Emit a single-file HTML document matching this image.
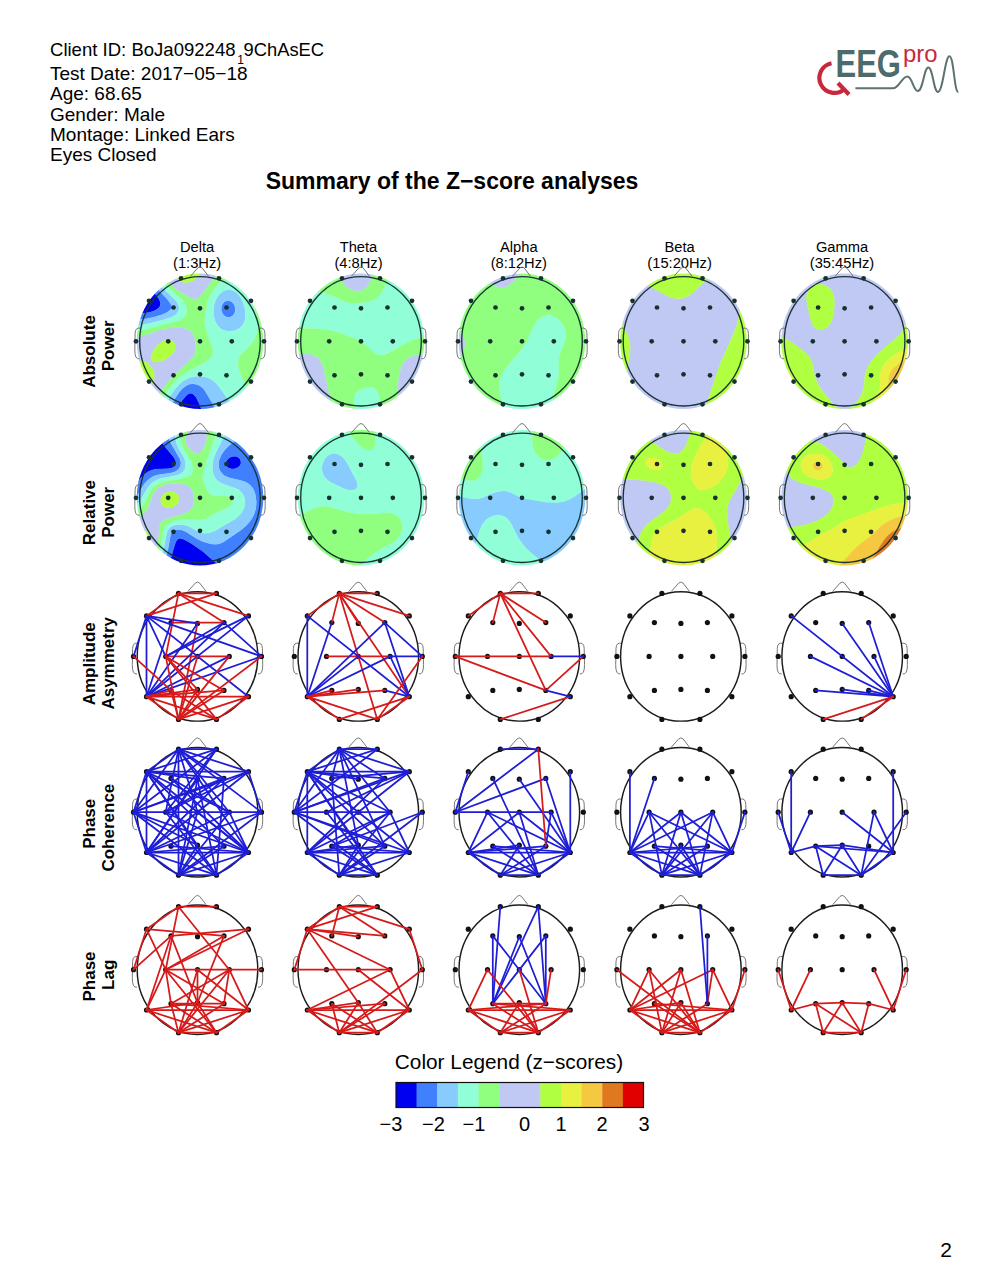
<!DOCTYPE html>
<html><head><meta charset="utf-8"><style>
html,body{margin:0;padding:0;background:#fff;}
body{width:987px;height:1279px;overflow:hidden;position:relative;font-family:"Liberation Sans",sans-serif;}
svg{position:absolute;left:0;top:0;}
text{font-family:"Liberation Sans",sans-serif;}
</style></head><body>
<svg width="987" height="1279" viewBox="0 0 987 1279">
<g font-size="19">
<text x="50" y="55.6" textLength="185.5" lengthAdjust="spacingAndGlyphs">Client ID: BoJa092248</text><text x="237.3" y="64" font-size="12">1</text><text x="243.6" y="55.6" textLength="80.5" lengthAdjust="spacingAndGlyphs">9ChAsEC</text>
<text x="50" y="79.5">Test Date: 2017−05−18</text>
<text x="50" y="100">Age: 68.65</text>
<text x="50" y="120.5">Gender: Male</text>
<text x="50" y="140.5">Montage: Linked Ears</text>
<text x="50" y="161">Eyes Closed</text>
</g>
<text x="452" y="189" text-anchor="middle" font-size="23" font-weight="bold">Summary of the Z−score analyses</text>
<g>
<text x="835.5" y="76.5" font-size="39" font-weight="bold" style="fill:#4d6b6b" textLength="65.5" lengthAdjust="spacingAndGlyphs">EEG</text>
<text x="903" y="62" font-size="23" style="fill:#c8283c" textLength="34.5" lengthAdjust="spacingAndGlyphs">pro</text>
<path d="M831.5 63.2 A15 15 0 1 0 844.5 89" fill="none" stroke="#c8283c" stroke-width="4.2"/>
<path d="M838 83 L849 94.5" stroke="#c8283c" stroke-width="4.2"/>
<path d="M855.4 88.3 L893 88.3 C899 88.3 902 76.5 907.3 76.5 C912.5 76.5 913 91 917.8 91 C923 91 924 67.6 928.3 67.6 C933 67.6 933.5 91.9 938 91.9 C943 91.9 945 56.2 949.4 56.2 C954 56.2 954 91.9 958.3 91.9" fill="none" stroke="#5e7272" stroke-width="2"/>
</g>
<text x="197.1" y="251.6" text-anchor="middle" font-size="14.7">Delta</text><text x="197.1" y="267.8" text-anchor="middle" font-size="14.7">(1:3Hz)</text><text x="358.5" y="251.6" text-anchor="middle" font-size="14.7">Theta</text><text x="358.5" y="267.8" text-anchor="middle" font-size="14.7">(4:8Hz)</text><text x="518.8" y="251.6" text-anchor="middle" font-size="14.7">Alpha</text><text x="518.8" y="267.8" text-anchor="middle" font-size="14.7">(8:12Hz)</text><text x="679.6" y="251.6" text-anchor="middle" font-size="14.7">Beta</text><text x="679.6" y="267.8" text-anchor="middle" font-size="14.7">(15:20Hz)</text><text x="842.0" y="251.6" text-anchor="middle" font-size="14.7">Gamma</text><text x="842.0" y="267.8" text-anchor="middle" font-size="14.7">(35:45Hz)</text><text transform="translate(94.6 351.5) rotate(-90)" text-anchor="middle" font-size="17" font-weight="bold">Absolute</text><text transform="translate(113.8 345.8) rotate(-90)" text-anchor="middle" font-size="17" font-weight="bold">Power</text><text transform="translate(94.6 512.6) rotate(-90)" text-anchor="middle" font-size="17" font-weight="bold">Relative</text><text transform="translate(113.8 512.3) rotate(-90)" text-anchor="middle" font-size="17" font-weight="bold">Power</text><text transform="translate(94.6 663.8) rotate(-90)" text-anchor="middle" font-size="17" font-weight="bold">Amplitude</text><text transform="translate(113.8 663.3) rotate(-90)" text-anchor="middle" font-size="17" font-weight="bold">Asymmetry</text><text transform="translate(94.6 823.8) rotate(-90)" text-anchor="middle" font-size="17" font-weight="bold">Phase</text><text transform="translate(113.8 827.6) rotate(-90)" text-anchor="middle" font-size="17" font-weight="bold">Coherence</text><text transform="translate(94.6 976.5) rotate(-90)" text-anchor="middle" font-size="17" font-weight="bold">Phase</text><text transform="translate(113.8 974.8) rotate(-90)" text-anchor="middle" font-size="17" font-weight="bold">Lag</text>
<clipPath id="clip00"><ellipse cx="200" cy="341.3" rx="63.3" ry="67.8"/></clipPath><g clip-path="url(#clip00)"><path d="M135 282.7l6 2.2l6 3l5 3.4l4.3 4l2.9 4l1.4 4l-0.6 3l-1.5 2l-4.5 2.7l-6 1.7l-7 0.6l-7-0.6l0-30.3l1 0.3zM190 393.3l1.4 0l1.6 0.6l3 3.2l3 5.8l3.3 8.4l-24.2 0l1.4-6l2.5-4.7l4-4.9l2-1.6l2-0.8z" fill="#0000f0" stroke="#0000f0" stroke-width="0.3" fill-rule="evenodd"/><path d="M134.4 273.3l7.6 4.2l8 5.4l6.7 5.4l6.1 6l5.4 6l2.7 4l0.7 3l-0.6 1.7l-1 1.3l-2.7 2l-3.3 1.6l-9.9 3.4l-10.1 1.9l-10 0.7l0-7.2l5 0.5l5 0l8-1.5l3.5-1.4l3-2l1.5-2l0.6-2l-0.5-3l-1.5-3l-2.3-3l-3.3-3.2l-4-3l-5-2.8l-10-3.9l0-9.3l0.4 0.2zM226 300.9l3-0.3l3 1.4l2 2.3l1.1 3l0.2 3l-0.7 3l-1.6 2.3l-3 1.7l-3-0.1l-2-0.9l-2.1-2l-1.4-3l-0.3-3l0.6-3l2-3l2.2-1.4zM190 384.1l3-0.4l4 0.7l3 1.4l3 2.5l2.3 3l11.9 20l-14.9 0l-3.3-8.4l-2.9-5.6l-2.6-3l-2.5-1.1l-2 0.4l-2 1.3l-4.8 5.4l-2.3 4l-1.8 7l-8.8 0l4.6-11l5.1-7.9l3-3.4l3-2.6l2-1.2l3-1.1z" fill="#4080ff" stroke="#4080ff" stroke-width="0.3" fill-rule="evenodd"/><path d="M135 271.3l9 0l11 9.3l19.7 18.7l3 4l1.3 4l0 2l-0.6 2l-2.1 3l-4.9 3l-9.3 3l-15.1 3.7l-13 2.1l0-6.2l7-0.4l6-0.7l12-3l5-1.9l4-2.1l2.8-2.5l0.8-2l-0.7-3l-1.9-3l-9-9.9l-6-5.4l-6-4.6l-7-4.5l-7-3.8l0-1.8l1 0zM226 290l3-0.3l3 0.5l3 1.3l3 2.5l2.5 3.3l2 4l1.7 5l1.1 5l0.3 4l-0.3 3l-0.8 3l-1.5 3.2l-2 2.4l-3 2.3l-3 1.3l-3 0.7l-4 0.1l-3-0.6l-3-1.3l-2-1.4l-2.5-2.7l-1.9-3l-1.1-3l-0.9-4l-0.2-4l0.3-4l0.8-4l1.5-4l2-3.3l2.4-2.7l2.6-2l3-1.3zM225.1 301.3l-2.2 2l-1.4 3l-0.3 3l0.6 3l2 3l2.2 1.6l3 0.5l2-0.5l2.3-1.6l1.7-3l0.4-3l-0.6-3l-1.5-3l-2.3-2l-3-0.8l-2.9 0.8zM196 376.2l5 0.1l5 0.8l4 1.5l4.1 2.7l4.7 5l10.5 15l9.1 10l-21.2 0l-11.9-20l-2.3-3l-2.3-2l-2.7-1.5l-5-1.1l-4 0.6l-3 1.4l-3 2.3l-3 3.2l-3.1 4.1l-3 5l-4.6 11l-7.5 0l8.8-16l3.4-5.1l4.2-4.9l4.5-4l4.3-2.6l4-1.5l5-1z" fill="#88ccff" stroke="#88ccff" stroke-width="0.3" fill-rule="evenodd"/><path d="M145 271.3l7.4 0l14.6 15l13.8 12l2.7 3l2.3 4l1 4l-0.1 3l-1 3l-1.5 2l-2.6 2l-3.6 1.7l-33 8.7l-11 2.5l0-6.1l16-2.7l20-5.5l3.4-1.6l2.9-2l1.7-2.2l1-2.8l0-2l-0.8-3l-3.2-4.7l-20-19l-11-9.3l1 0zM225 280.2l5-0.6l4.4 0.7l4.6 2l4 3.1l2.4 2.9l2.4 4l8.4 21l1.4 6l0.3 5l-0.4 6l-1.3 5l-1.7 4l-2.6 4l-2.9 3.4l-6.8 6.6l-2.4 3l-1.6 4l-0.1 4l0.7 4l1.9 6l2 5l2.6 5l3.5 5l4.2 4.9l13 12.1l0 5l-27.6 0l-9.1-10l-9.7-14l-4.6-5.2l-3.8-2.8l-4.2-1.9l-4-0.9l-5-0.4l-4 0.4l-4 1l-4 1.7l-4 2.6l-4.8 4.5l-4.7 6l-4.9 8l-5.8 11l-7.8 0l15.3-23l3.7-4.7l4-4.2l4-3.5l5-3.4l15.7-8.2l4.7-3l3.5-3l2.1-3l0.9-3l-0.1-3l-1.1-4l-4.7-11.7l-1.6-5.3l-1-6l0.4-6l3.1-15l1.4-4l2-4l3.3-5l3.4-3.9l3-2.4l4-1.8zM225.2 290.3l-2.2 1l-3 2.4l-2.2 2.6l-2.2 4l-1.4 4l-0.6 4l-0.2 5l0.6 4l1 3.5l1.8 3.5l2.2 2.8l2 1.7l3 1.6l3 0.7l3 0.2l3-0.3l3-0.8l3-1.6l2-1.7l2.1-2.6l1.4-3l0.8-3l0.3-4l-0.4-4l-1.3-5l-1.9-5l-2-3.7l-2-2.6l-3-2.5l-3-1.3l-3-0.5l-3.8 0.6z" fill="#90ffd8" stroke="#90ffd8" stroke-width="0.3" fill-rule="evenodd"/><path d="M153 271.3l6.1 0l8.5 10l7.4 6.8l6 4.1l8 4.6l4 1.8l2 0.4l2-0.4l3-2.2l11-14.8l4-4.5l4-3.2l5-2.3l1-0.3l14.1 0l0.9 0.3l4 1.7l3 1.8l3 2.3l3 3.2l4.6 6.7l8.4 16.3l0 102.7l-11.9-11l-4.1-4.5l-3.4-4.5l-2.9-5l-2.6-6l-2-6l-1-5l0.1-4l1.6-4l2.4-3l6.8-6.6l2.9-3.4l2.6-4l1.7-4l1.3-5l0.4-6l-0.3-5l-1.4-6l-7.9-20l-3.6-6l-2.9-3l-3.8-2.6l-4-1.5l-5-0.6l-4 0.6l-2.8 1.1l-2.2 1.3l-3 2.8l-3.2 3.9l-3.1 5l-1.8 4l-1.6 5l-2.7 14l-0.1 6l2.1 9l6 16l0.3 4l-0.4 2l-1 2l-2.6 3l-3.9 3l-19 10.2l-5 3.4l-4 3.5l-4 4.2l-3.7 4.7l-15.3 23l-9.5 0l10.5-11.6l12-16.8l4-5l6-6l10-8.6l3.9-4l3.2-5l1.1-3l0.5-3l-0.5-7l-1.1-4l-1.3-3l-1.8-2.6l-2-1.7l-2-1l-3-0.8l-4-0.4l-6 0.1l-10 1.4l-7 1.9l-23 7.7l0-6.7l11-2.5l32.2-8.4l2.8-1.1l3.1-1.9l2-2l1.4-3l0.4-3l-0.4-3l-1.2-3l-1.8-3l-3.8-4l-13.7-12l-13.6-14l0.6 0z" fill="#90ff80" stroke="#90ff80" stroke-width="0.3" fill-rule="evenodd"/><path d="M160 271.3l11.5 0l3.4 5l3.1 3.3l4 2.3l4 0.7l4-0.5l4-2l4-3.7l4.2-5.1l22.8 0l-5 2.1l-4.2 2.9l-4.5 5l-11.3 15.1l-3 2.2l-2 0.4l-3-0.8l-5-2.5l-8-4.8l-5-3.6l-8.2-8l-6.7-8l0.9 0zM240 271.3l26 0l0 32.3l-8.4-16.3l-4-6l-2.7-3l-3.6-3l-4.3-2.5l-3.9-1.5l0.9 0zM170 328.2l8-0.4l6 0.4l4 1.2l3 2.3l2.8 4.6l1.7 7l0.1 6l-1.5 5l-1.7 3l-3.3 4l-12.1 10.6l-6.3 6.4l-3.7 4.6l-12 16.8l-10.5 11.6l-10.5 0l0-15.8l8-3.2l4-2.4l3.2-2.6l1.8-2l1.9-3l1-3l0.4-4l-0.3-3.4l-1-2.7l-1-1.3l-2-1.6l-2-2.9l-1-0.8l-2-0.7l-3-0.3l-4 0.3l-4 0.9l0-23.9l26-8.6l10-2.1zM164.7 340.3l-3.5 2l-2.5 2l-2.8 3l-2.7 4l-1.4 3l-0.7 3l0.1 2l0.5 1l1.3 1.1l2 0.7l2 0l3-0.6l4-1.5l6-3.8l2-1.9l2-2.7l1-2.3l0.3-3l-0.4-2l-1.1-2l-1.8-1.6l-2-0.9l-2-0.3l-3.3 0.8z" fill="#c0c8f4" stroke="#c0c8f4" stroke-width="0.3" fill-rule="evenodd"/><path d="M172 271.3l8.2 0l2.1 2l2.7 0.7l3-0.9l2.6-1.8l11.6 0l-4.2 5.1l-4 3.7l-4 2l-4 0.5l-4-0.7l-4-2.3l-3.8-4.3l-2.7-4l0.5 0zM165 340.2l3-0.7l2 0.3l2 0.9l1.8 1.6l1.1 2l0.4 2l-0.3 3l-1 2.3l-2 2.7l-2 1.9l-6 3.8l-4 1.5l-3 0.6l-2 0l-2-0.7l-1.3-1.1l-0.5-1l-0.1-2l0.7-3l1.4-3l2.7-4l2.8-3l3.3-2.5l3-1.6zM136 362.3l7-0.7l4 1l1 0.8l2 2.9l2 1.6l1 1.3l1.1 3.1l0.2 4l-0.4 3l-1 3l-1.9 3l-2 2.2l-3 2.4l-4 2.4l-8 3.2l0-32.7l2-0.5z" fill="#b0ff40" stroke="#b0ff40" stroke-width="0.3" fill-rule="evenodd"/><path d="M181 271.3l9.6 0l-2.6 1.8l-3 0.9l-3-0.9l-1.8-1.8l0.8 0z" fill="#e8f040" stroke="#e8f040" stroke-width="0.3" fill-rule="evenodd"/></g>
<path d="M190.4 276.3 L197.8 268.0 Q200.0 266.0 202.2 268.0 L208.6 276.3" fill="none" stroke="#777" stroke-width="1"/>
<path d="M140.7 328.3 Q135.4 326.8 135.1 333.3 L134.8 349.3 Q134.6 359.8 139.5 358.8" fill="none" stroke="#777" stroke-width="1"/>
<path d="M259.3 328.3 Q264.6 326.8 264.9 333.3 L265.2 349.3 Q265.4 359.8 260.5 358.8" fill="none" stroke="#777" stroke-width="1"/>
<ellipse cx="200" cy="341.3" rx="60.3" ry="64.7" fill="none" stroke="#1c3434" stroke-width="1.35"/>
<g fill="#173030"><circle cx="181.0" cy="278.3" r="2.35"/><circle cx="219.0" cy="278.3" r="2.35"/><circle cx="149.0" cy="300.8" r="2.35"/><circle cx="173.5" cy="307.5" r="2.35"/><circle cx="200.0" cy="308.3" r="2.35"/><circle cx="226.5" cy="307.5" r="2.35"/><circle cx="251.0" cy="300.8" r="2.35"/><circle cx="136.0" cy="341.3" r="2.35"/><circle cx="168.2" cy="341.3" r="2.35"/><circle cx="200.0" cy="341.3" r="2.35"/><circle cx="231.8" cy="341.3" r="2.35"/><circle cx="264.0" cy="341.3" r="2.35"/><circle cx="149.0" cy="381.6" r="2.35"/><circle cx="173.5" cy="375.3" r="2.35"/><circle cx="200.0" cy="374.3" r="2.35"/><circle cx="226.5" cy="375.3" r="2.35"/><circle cx="251.0" cy="381.6" r="2.35"/><circle cx="181.0" cy="404.3" r="2.35"/><circle cx="219.0" cy="404.3" r="2.35"/></g>
<clipPath id="clip01"><ellipse cx="361" cy="341.3" rx="63.3" ry="67.8"/></clipPath><g clip-path="url(#clip01)"><path d="M397 271.7l0.7-0.4l29.3 0l0 63.1l-3 1.9l-16 5.6l-21 11.9l-4 1.3l-3 0.1l-3-0.9l-4-2.4l-10-9l-3-2.2l-5.5-2.4l-11.5-4.2l-7-2.2l-7-1.7l-9-1.1l-17-1.1l-4-0.8l-4-1.7l0-35.2l4-0.6l5-0.2l10 1l7 1.6l6 1.8l17 7.2l5 1.6l7 0.6l9-0.9l7.3-2.1l3.6-2l2.5-2l3.9-5l3.9-9l1.8-3.1l4-4l5-3.5zM369 387.3l3 0l2.7 1l2 2l1.3 2.2l1.5 4.8l0.6 5l-0.3 3l-1.4 4l-1.1 2l-19.9 0l-2.4-4.3l-1.3-4.7l-0.1-4l1.2-4l2.2-2.8l3-1.9l4-1.4l5-0.9z" fill="#90ffd8" stroke="#90ffd8" stroke-width="0.3" fill-rule="evenodd"/><path d="M296 271.3l38.1 0l9.4 12l2.9 3l4.6 3.1l3 1l3 0.4l3-0.2l3-0.9l2.3-1.4l2.1-2l1.4-2l1.3-3l2.3-10l25.3 0l-5.7 3.9l-4 4l-1.8 3.1l-3.9 9l-2.1 3l-3.2 3.2l-4 2.5l-5 1.8l-6 1l-7 0.5l-5-0.4l-4-1l-17-7.3l-11-3.3l-7-1.2l-6-0.5l-5 0l-5 0.7l0-19l1 0zM296 326l4 1.4l4 0.8l16 0.9l8 0.9l7 1.6l7 2.2l12.5 4.5l5.5 2.4l3 2.2l11 9.7l4 2.1l3 0.5l3-0.3l3-1.1l5-2.5l15-8.9l6-2.5l9-2.7l5-2.8l0 19.6l-12 1.6l-6 2l-2.4 1.7l-1.9 2l-2 3l-1.8 4l-2 8l-0.8 9l0.3 7l1.8 19l-22.9 0l1.7-3.3l1-3.7l0-4l-1-5.1l-1.1-2.9l-2-3l-2.9-1.8l-3-0.3l-5 0.7l-5 1.7l-3 1.9l-2.2 2.8l-1.2 4l0.1 4l1.3 4.7l2.4 4.3l-25.4 0l-2.9-17l-5.9-26l-1.6-5l-1.6-3l-3-3.2l-4-1.9l-6-1l-12-0.7l0-28l1 0.5z" fill="#90ff80" stroke="#90ff80" stroke-width="0.3" fill-rule="evenodd"/><path d="M335 271.3l37.4 0l-2.3 10l-1.3 3l-1.4 2l-2.1 2l-2.3 1.4l-3 0.9l-3 0.2l-3-0.4l-3-1l-4.6-3.1l-2.9-3l-9.4-12l0.9 0zM296 353.6l12 0.6l5 1l4 1.9l3 3.2l1.6 3l1.6 5l5.9 26l2.9 17l-37 0l0-57.8l1 0.1zM425 354.3l2-0.3l0 57.3l-26.8 0l-1.9-20l-0.1-7l1.1-10l2.4-8l3.3-5.3l2-2l2-1.4l6-2l10-1.3z" fill="#c0c8f4" stroke="#c0c8f4" stroke-width="0.3" fill-rule="evenodd"/></g>
<path d="M351.4 276.3 L358.8 268.0 Q361.0 266.0 363.2 268.0 L369.6 276.3" fill="none" stroke="#777" stroke-width="1"/>
<path d="M301.7 328.3 Q296.4 326.8 296.1 333.3 L295.8 349.3 Q295.6 359.8 300.5 358.8" fill="none" stroke="#777" stroke-width="1"/>
<path d="M420.3 328.3 Q425.6 326.8 425.9 333.3 L426.2 349.3 Q426.4 359.8 421.5 358.8" fill="none" stroke="#777" stroke-width="1"/>
<ellipse cx="361" cy="341.3" rx="60.3" ry="64.7" fill="none" stroke="#1c3434" stroke-width="1.35"/>
<g fill="#173030"><circle cx="342.0" cy="278.3" r="2.35"/><circle cx="380.0" cy="278.3" r="2.35"/><circle cx="310.0" cy="300.8" r="2.35"/><circle cx="334.5" cy="307.5" r="2.35"/><circle cx="361.0" cy="308.3" r="2.35"/><circle cx="387.5" cy="307.5" r="2.35"/><circle cx="412.0" cy="300.8" r="2.35"/><circle cx="297.0" cy="341.3" r="2.35"/><circle cx="329.2" cy="341.3" r="2.35"/><circle cx="361.0" cy="341.3" r="2.35"/><circle cx="392.8" cy="341.3" r="2.35"/><circle cx="425.0" cy="341.3" r="2.35"/><circle cx="310.0" cy="381.6" r="2.35"/><circle cx="334.5" cy="375.3" r="2.35"/><circle cx="361.0" cy="374.3" r="2.35"/><circle cx="387.5" cy="375.3" r="2.35"/><circle cx="412.0" cy="381.6" r="2.35"/><circle cx="342.0" cy="404.3" r="2.35"/><circle cx="380.0" cy="404.3" r="2.35"/></g>
<clipPath id="clip02"><ellipse cx="522" cy="341.3" rx="63.3" ry="67.8"/></clipPath><g clip-path="url(#clip02)"><path d="M545 315.2l3-0.6l4 0.7l3 1.4l3.4 2.6l2.8 3l2.6 4l1.5 4l0.6 4l-0.1 3l-0.8 4l-4.4 11l-1.4 5l-0.5 5l0.3 10l-0.4 5l-0.8 4l-3.2 11l-2.6 14l-1.3 5l-45.8 0l-4.6-15l-1.1-6l0-7l0.8-4l1-3l2.6-5l4.2-6l13.2-15.4l3.5-4.6l2.1-4l5-12l3.4-5.8l5-5.4l5-2.9z" fill="#90ffd8" stroke="#90ffd8" stroke-width="0.3" fill-rule="evenodd"/><path d="M457 271.3l13.1 0l6.9 3.5l16 10.2l5 1.8l4 0.5l5-1.1l4.7-2.9l4.3-4.8l4.6-7.2l67.4 0l0 140l-37.3 0l1.3-5l2.6-14l3.2-11l0.8-4l0.4-5l-0.3-10l0.5-5l1.4-5l4.4-11l0.8-4l0.1-3l-0.6-4l-1.1-3l-1.5-3l-2.7-3.5l-3-2.7l-3-2l-3-1.1l-3-0.4l-3 0.6l-3 1.5l-3 2.3l-3.1 3.3l-3.9 6.2l-5.4 12.8l-2.1 4l-3.5 4.6l-13.2 15.4l-4.2 6l-2.6 5l-1 3l-0.8 4l0 7l1.1 6l4.6 15l-48.9 0l0-51.1l4-4.8l2.7-4.1l1.7-4l0.6-4l-0.7-4l-1.5-3l-2.7-3l-4.1-3.1l0-58.9l1 0z" fill="#90ff80" stroke="#90ff80" stroke-width="0.3" fill-rule="evenodd"/><path d="M471 271.3l49.6 0l-4.6 7.2l-4.3 4.8l-4.7 2.9l-5 1.1l-4-0.5l-5-1.8l-16-10.2l-6.9-3.5l0.9 0zM456.2 330.3l3.9 3l2.7 3l1.5 3l0.7 4l-0.6 4l-1.7 4l-2.7 4.1l-4 4.8l0.2-29.9z" fill="#c0c8f4" stroke="#c0c8f4" stroke-width="0.3" fill-rule="evenodd"/></g>
<path d="M512.4 276.3 L519.8 268.0 Q522.0 266.0 524.2 268.0 L530.6 276.3" fill="none" stroke="#777" stroke-width="1"/>
<path d="M462.7 328.3 Q457.4 326.8 457.1 333.3 L456.8 349.3 Q456.6 359.8 461.5 358.8" fill="none" stroke="#777" stroke-width="1"/>
<path d="M581.3 328.3 Q586.6 326.8 586.9 333.3 L587.2 349.3 Q587.4 359.8 582.5 358.8" fill="none" stroke="#777" stroke-width="1"/>
<ellipse cx="522" cy="341.3" rx="60.3" ry="64.7" fill="none" stroke="#1c3434" stroke-width="1.35"/>
<g fill="#173030"><circle cx="503.0" cy="278.3" r="2.35"/><circle cx="541.0" cy="278.3" r="2.35"/><circle cx="471.0" cy="300.8" r="2.35"/><circle cx="495.5" cy="307.5" r="2.35"/><circle cx="522.0" cy="308.3" r="2.35"/><circle cx="548.5" cy="307.5" r="2.35"/><circle cx="573.0" cy="300.8" r="2.35"/><circle cx="458.0" cy="341.3" r="2.35"/><circle cx="490.2" cy="341.3" r="2.35"/><circle cx="522.0" cy="341.3" r="2.35"/><circle cx="553.8" cy="341.3" r="2.35"/><circle cx="586.0" cy="341.3" r="2.35"/><circle cx="471.0" cy="381.6" r="2.35"/><circle cx="495.5" cy="375.3" r="2.35"/><circle cx="522.0" cy="374.3" r="2.35"/><circle cx="548.5" cy="375.3" r="2.35"/><circle cx="573.0" cy="381.6" r="2.35"/><circle cx="503.0" cy="404.3" r="2.35"/><circle cx="541.0" cy="404.3" r="2.35"/></g>
<clipPath id="clip03"><ellipse cx="683.5" cy="341.3" rx="63.3" ry="67.8"/></clipPath><g clip-path="url(#clip03)"><path d="M712.5 278.2l6-0.3l5 1.1l5 2.7l4 3.7l3.2 4.9l2.3 6l1.5 8l0.1 7l-1.1 8l-2.8 9l-15.7 36l-11.8 35l-4.8 12l-82.1 0l0-8l0.8-9l7.2-37l0.8-6l0.1-5l-0.8-6l-2.1-6l-2.8-5.3l-7-11l0-31.9l4-2.8l5-1.7l5-0.4l6 0.7l5 1.4l6 2.5l21 11l5 1.5l5 0.4l5-1l4.9-2.4l5.1-4l10-9.5l4-2.3l4-1.3z" fill="#c0c8f4" stroke="#c0c8f4" stroke-width="0.3" fill-rule="evenodd"/><path d="M618.5 271.3l131 0l0 104.1l-3.1 6.9l-2.1 7l-1.3 8l-1.3 14l-38.3 0l4.8-12l11.3-33.7l14.7-33.3l2.6-7l1.7-6l0.8-5l0.4-5l-0.8-9l-2.4-8.2l-2-3.8l-2.1-3l-4.4-4l-5.5-2.6l-5-0.9l-6 0.7l-4 1.4l-3 1.9l-11 10.4l-5 3.6l-6 2.5l-6 0.3l-4-0.7l-4-1.5l-20-10.6l-6-2.5l-5-1.4l-6-0.7l-5 0.4l-5 1.7l-4 2.8l0-14.8l1 0zM617.7 318.3l6.8 10.7l2.8 5.3l2.1 6l0.8 6l-0.1 5l-0.8 6l-7.2 37l-0.8 9l0 8l-3.8 0l0.2-93z" fill="#b0ff40" stroke="#b0ff40" stroke-width="0.3" fill-rule="evenodd"/><path d="M749.5 375.4l0 35.9l-7.8 0l1.3-14l1.3-8l2.1-7l3.1-6.9z" fill="#e8f040" stroke="#e8f040" stroke-width="0.3" fill-rule="evenodd"/></g>
<path d="M673.9 276.3 L681.3 268.0 Q683.5 266.0 685.7 268.0 L692.1 276.3" fill="none" stroke="#777" stroke-width="1"/>
<path d="M624.2 328.3 Q618.9 326.8 618.6 333.3 L618.3 349.3 Q618.1 359.8 623.0 358.8" fill="none" stroke="#777" stroke-width="1"/>
<path d="M742.8 328.3 Q748.1 326.8 748.4 333.3 L748.7 349.3 Q748.9 359.8 744.0 358.8" fill="none" stroke="#777" stroke-width="1"/>
<ellipse cx="683.5" cy="341.3" rx="60.3" ry="64.7" fill="none" stroke="#1c3434" stroke-width="1.35"/>
<g fill="#173030"><circle cx="664.5" cy="278.3" r="2.35"/><circle cx="702.5" cy="278.3" r="2.35"/><circle cx="632.5" cy="300.8" r="2.35"/><circle cx="657.0" cy="307.5" r="2.35"/><circle cx="683.5" cy="308.3" r="2.35"/><circle cx="710.0" cy="307.5" r="2.35"/><circle cx="734.5" cy="300.8" r="2.35"/><circle cx="619.5" cy="341.3" r="2.35"/><circle cx="651.7" cy="341.3" r="2.35"/><circle cx="683.5" cy="341.3" r="2.35"/><circle cx="715.3" cy="341.3" r="2.35"/><circle cx="747.5" cy="341.3" r="2.35"/><circle cx="632.5" cy="381.6" r="2.35"/><circle cx="657.0" cy="375.3" r="2.35"/><circle cx="683.5" cy="374.3" r="2.35"/><circle cx="710.0" cy="375.3" r="2.35"/><circle cx="734.5" cy="381.6" r="2.35"/><circle cx="664.5" cy="404.3" r="2.35"/><circle cx="702.5" cy="404.3" r="2.35"/></g>
<clipPath id="clip04"><ellipse cx="844.6" cy="341.3" rx="63.3" ry="67.8"/></clipPath><g clip-path="url(#clip04)"><path d="M779.6 271.3l131 0l0 12l-3.5 8l-1.7 7l-0.2 5l0.7 15l-0.8 6l-1.7 5l-1.7 3l-2.4 3l-20.1 17l-4.9 5l-3.9 5l-2.9 5l-1.9 5l-0.8 4l-0.9 11l-2.3 7l-2.7 5l-3.3 4.6l-3 2.9l-3 1.9l-4 1.1l-4-0.2l-4-1.7l-3.3-2.6l-11.7-14l-5.2-8l-2.7-7l-1.6-10l-1-4l-1.3-3l-2-3l-6.2-5.8l-10-7.5l-7-4l-7-2.5l0-65.2l1 0zM817.2 284.3l-2.6 0.6l-2 1l-2 1.6l-2 2.5l-1.1 2.3l-0.8 3l-0.1 6l4 17.9l1.8 5.1l2.2 3l2 1.4l2 0.8l3 0.2l3-0.8l3-2.1l2.2-2.5l1.8-3.4l1.2-3.6l1-5l0.6-7l-0.1-6l-1.4-6l-1.3-2.5l-2.1-2.5l-2.8-2l-3.1-1.4l-3-0.6l-3.4 0z" fill="#c0c8f4" stroke="#c0c8f4" stroke-width="0.3" fill-rule="evenodd"/><path d="M817.6 284.2l3 0.1l3 0.6l3.1 1.4l2.8 2l2.1 2.5l1.3 2.5l1.4 6l0.1 6l-0.6 7l-1 5l-1.2 3.6l-1.8 3.4l-2.2 2.5l-3 2.1l-3 0.8l-3-0.2l-2-0.8l-2-1.4l-2.2-3l-1.8-5.1l-4-17.9l-0.1-4l0.4-3l1-3l1.2-2l1.5-1.8l2-1.6l2-1l3-0.7zM910.6 283.3l0 62.4l-13 7.3l-5 3.3l-5 4.2l-4 4.8l-2.2 4l-1.4 5l-0.2 4l0.6 7l-1 5l-3.8 8.1l-7 10.4l-1.9 2.5l-51 0l-9.1-9l-6.3-8l-4.1-7l-5.1-12l-2.5-4.2l-4.1-3.8l-5.9-3.1l0-27.7l6 2.1l7 3.7l8 5.8l8 6.9l2.6 3.3l1.9 4l1 4l1.3 9l1.6 5l2.5 5l3.3 5l10.8 13.2l4.1 3.8l2.9 1.7l3 0.8l3 0l3-0.7l3.4-1.8l3.2-3l3.7-5l2.7-5l2.3-7l0.9-11l0.8-4l1.9-5l2.9-5l3.9-5l4.9-5l20.1-17l2.4-3l1.7-3l1.7-5l0.8-5l0-6l-0.7-11l0.4-5l1.5-6l3.5-8z" fill="#b0ff40" stroke="#b0ff40" stroke-width="0.3" fill-rule="evenodd"/><path d="M910.6 345.7l0 11.4l-9 4.7l-5 3.5l-4 4l-2.4 4l-1.4 5l-0.1 10l-1 7l-2.6 8l-3.7 8l-14.7 0l7.9-11.2l4.5-8.8l1.2-5l-0.5-8l0.2-4l1.4-5l2.2-4l4-4.8l5-4.2l5-3.3l13-7.3zM778.9 364.3l5.6 3l4.1 3.8l2.5 4.2l5.1 12l4.1 7l6.3 8l9.1 9l-37.1 0l0-47.1l0.3 0.1z" fill="#e8f040" stroke="#e8f040" stroke-width="0.3" fill-rule="evenodd"/><path d="M910.6 357.1l0 10.9l-6 3.1l-4 2.9l-3 3.3l-1.6 3l-0.5 3l0.5 9l-0.2 6l-0.9 6l-1.8 7l-11.7 0l3.7-8l2.6-8l1-7l0.1-10l0.6-3l1.3-3l2.9-4.2l4-3.6l5-3.3l8-4.1z" fill="#f4c840" stroke="#f4c840" stroke-width="0.3" fill-rule="evenodd"/><path d="M910.6 368l0 15.4l-1.9 2.9l-1.1 3.4l-1.5 14.6l-1.1 7l-11.9 0l1.8-7l0.9-6l0.2-6l-0.5-9l0.5-3l1.6-3l3-3.3l4-2.9l6-3.1z" fill="#e07820" stroke="#e07820" stroke-width="0.3" fill-rule="evenodd"/><path d="M910.6 383.4l0 27.9l-5.6 0l1.1-7l1.5-14.6l1.1-3.4l1.9-2.9z" fill="#e00000" stroke="#e00000" stroke-width="0.3" fill-rule="evenodd"/></g>
<path d="M835.0 276.3 L842.4 268.0 Q844.6 266.0 846.8 268.0 L853.2 276.3" fill="none" stroke="#777" stroke-width="1"/>
<path d="M785.3 328.3 Q780.0 326.8 779.7 333.3 L779.4 349.3 Q779.2 359.8 784.1 358.8" fill="none" stroke="#777" stroke-width="1"/>
<path d="M903.9 328.3 Q909.2 326.8 909.5 333.3 L909.8 349.3 Q910.0 359.8 905.1 358.8" fill="none" stroke="#777" stroke-width="1"/>
<ellipse cx="844.6" cy="341.3" rx="60.3" ry="64.7" fill="none" stroke="#1c3434" stroke-width="1.35"/>
<g fill="#173030"><circle cx="825.6" cy="278.3" r="2.35"/><circle cx="863.6" cy="278.3" r="2.35"/><circle cx="793.6" cy="300.8" r="2.35"/><circle cx="818.1" cy="307.5" r="2.35"/><circle cx="844.6" cy="308.3" r="2.35"/><circle cx="871.1" cy="307.5" r="2.35"/><circle cx="895.6" cy="300.8" r="2.35"/><circle cx="780.6" cy="341.3" r="2.35"/><circle cx="812.8" cy="341.3" r="2.35"/><circle cx="844.6" cy="341.3" r="2.35"/><circle cx="876.4" cy="341.3" r="2.35"/><circle cx="908.6" cy="341.3" r="2.35"/><circle cx="793.6" cy="381.6" r="2.35"/><circle cx="818.1" cy="375.3" r="2.35"/><circle cx="844.6" cy="374.3" r="2.35"/><circle cx="871.1" cy="375.3" r="2.35"/><circle cx="895.6" cy="381.6" r="2.35"/><circle cx="825.6" cy="404.3" r="2.35"/><circle cx="863.6" cy="404.3" r="2.35"/></g>
<clipPath id="clip10"><ellipse cx="200" cy="497.8" rx="63.3" ry="67.8"/></clipPath><g clip-path="url(#clip10)"><path d="M135 427.8l19 0l3.3 7l3.4 6l4.4 6l8.9 10.6l1.4 2.4l0.7 3l-0.9 3l-1.2 1.2l-2 1l-4 0.8l-13 0.5l-4 1.1l-3 1.4l-4 2.9l-3 3.1l-7 10l0-60l1 0zM232 456.5l3-0.3l2.4 0.6l2.4 2l1 2l0.1 3l-1 2l-2.4 2l-2.5 0.9l-3 0.3l-3-0.7l-2-1.3l-1.4-2.2l0-2l1.4-2.9l2-1.9l3-1.5zM266 523.3l0 44.5l-96.7 0l1.7-10l3-10.9l2-5.6l2.1-2.5l1.9-0.5l3 0.6l7 3.7l13.3 9.2l10.7 9.4l3.8 2.6l4.2 1.3l5-0.1l4-1.2l3-1.5l4-3l3.6-3.5l18.4-22.7l3.6-5.3l2.4-4.5z" fill="#0000f0" stroke="#0000f0" stroke-width="0.3" fill-rule="evenodd"/><path d="M154 427.8l11.2 0l2.6 8l2.8 7l9.3 16l1 4l-0.3 3l-1.6 3.1l-2 1.7l-2 1.1l-4 1.2l-14 2.2l-4 1.5l-3 1.8l-2.9 2.4l-2.6 3l-2.6 4l-4.9 8.7l-3 2.9l0-11.6l6-8.8l5-5.1l4-2.7l5-1.7l4-0.5l10-0.2l4-0.8l3-1.9l1-2l0-2.3l-1.1-3l-1.9-2.8l-7.9-9.2l-3.7-5l-4.1-7l-3.3-7zM258 428.2l0.6-0.4l7.4 0l0 95.5l-4 7l-17 21.5l-5.4 6l-3.5 3l-3.1 2l-4 1.7l-3 0.7l-5-0.3l-4-1.5l-3-2.2l-10.7-9.4l-11.3-7.9l-8-4.6l-3-0.9l-2 0l-2 1.3l-2 4.1l-4 13.9l-1.7 10.1l-5.7 0l4.5-19l2.5-14l1.4-3l2-1.6l4-0.7l4 0.6l4.1 1.7l9.9 6.4l6 3l8 2.5l4 0.5l3 0l3-0.7l3-1.3l17-11.5l6-4.9l5.1-6l1.9-3.2l1.6-3.8l1.1-4l0.5-4l0-4l-0.6-5l-1.1-4l-1.4-3l-3.1-3.9l-4-2.7l-5-1.7l-12-2.7l-5-2.4l-2-1.8l-2-2.8l-1.1-3l-0.3-4l0.6-4l2.1-5l3.7-5.3l4-4.1l7-5.2l14.8-7.4l7.2-4.6zM231.2 456.8l-3.2 2l-1.6 2l-1 3l0.6 2l2 2l3 1.1l3 0l3.5-1.1l2.4-2l1-2l0.1-2l-1-2.7l-2-2l-2-0.8l-2-0.1l-2.8 0.6z" fill="#4080ff" stroke="#4080ff" stroke-width="0.3" fill-rule="evenodd"/><path d="M166 427.8l7.9 0l1.5 11l1.3 5l1.7 4l5.2 9l1.6 4l0.6 4l-0.7 4l-2.1 3.2l-2 1.5l-2.5 1.3l-4.5 1.3l-13 2.4l-4 1.4l-4 2.4l-2.8 2.5l-2.5 3l-7.7 13.2l-2.8 2.8l-3.2 2l0-6.4l2.8-2.6l6.3-11l2.2-3l2.9-3l3.8-2.6l5-2.1l14-2.2l4-1.2l3.1-1.9l2.2-3l0.6-4l-0.9-3.8l-9.8-17.2l-4.7-13l-0.3-1l0.8 0zM230 427.8l28.6 0l-7.6 4.9l-15 7.5l-7 5.2l-4 4.1l-3.7 5.3l-2.1 5l-0.6 4l0.3 4l1.1 3l2 2.8l2 1.8l5.1 2.4l11.9 2.7l4.1 1.3l3.9 2.3l3.5 3.7l1.6 3l1 3l1.2 8l-0.2 4l-0.6 4l-2.6 7l-2.5 4l-2.4 3l-6 5.5l-18 12.3l-3 1.5l-3 0.9l-3 0.3l-4-0.4l-8-2.3l-6-2.8l-10.9-7l-4.1-1.7l-4-0.6l-4 0.7l-2 1.6l-1.4 3l-2.5 14l-4.5 19l-5.5 0l5.5-18l3.1-17l2-4l2.3-2.2l3-1.4l3-0.6l3-0.2l4 0.4l6.1 2l9.9 5.7l4 0.8l5-0.4l6-2.2l20-11.7l4.9-4.2l3.1-4.5l1.7-4.5l0.3-5l-0.9-4l-2.3-4l-2.8-2.7l-3-1.7l-12-4l-5-2.5l-2-1.6l-2-2.6l-1.4-2.9l-0.8-3l-0.4-4l0.2-4l1-5l1.4-4.2l7-14.3l4-6.7l4-5.8z" fill="#88ccff" stroke="#88ccff" stroke-width="0.3" fill-rule="evenodd"/><path d="M174 427.8l7.6 0l-0.9 11l0.4 4l1.9 5l6.5 10l2 4l1.2 4l0.5 3l-0.6 4l-1.5 2l-1.2 1l-4.3 2l-5.6 1.3l-15 2.2l-4 1.2l-4 2l-3 2.4l-3.2 3.9l-5.8 11.4l-2.4 3.6l-3.6 3.3l-5 2.7l0-6l3.2-2l2.8-2.8l2-2.9l5-9.3l2.3-3l2.7-2.7l4-2.7l4-1.6l14-2.7l4.5-1.3l3.6-2l2.5-3l1.2-4l-0.3-4l-1.9-5l-5.2-9l-1.7-4l-1.5-6l-1.2-10zM217 428.5l0.2-0.7l12.6 0l-7.8 12.5l-4.9 9.5l-2.5 6l-1.5 5l-0.6 5l0 4l0.7 4l2.5 5l3.3 3.1l5 2.5l12 4l3 1.7l2.8 2.7l2.3 4l0.9 4l-0.3 5l-1.4 4l-3.4 5l-4.9 4.2l-20 11.7l-5.4 2.1l-4.6 0.5l-4-0.5l-3-1.2l-8-4.8l-3-1.2l-4-1l-4-0.2l-3 0.3l-3 0.9l-2 1l-2.3 2.2l-2 4l-3.1 17l-5.5 18l-5.7 0l4.6-10.7l2.8-8.3l1.2-5l2.3-14l1.4-3l2.3-2.7l2-1.3l3-1.4l8-1.7l8-0.5l12 0.8l4-0.6l3.8-1.6l9.2-5.4l10.2-4.6l2.8-2.1l2.1-2.9l0.5-2l-0.2-2l-0.6-1l-1.8-1.1l-4-0.7l-11-0.2l-3-0.8l-2.2-1.2l-1.8-1.7l-1.9-3.3l-3.1-9l-0.5-4l0.7-4l4.3-14l6.3-17l3.2-12.3z" fill="#90ffd8" stroke="#90ffd8" stroke-width="0.3" fill-rule="evenodd"/><path d="M182 427.8l8.7 0l-2.4 4l-1.7 4l-1 4l0.1 3l1.3 3.1l3 3.5l4 2.9l3 1l2-0.3l2.7-2.2l2-3l1.7-4l1-4l0.3-4l-0.4-4l-1.2-4l12.1 0l-3.4 13l-6.3 17l-4.3 14l-0.7 4l0.5 4l3.1 9l1.9 3.3l2 1.9l2 1l3 0.8l11 0.2l4 0.7l1.8 1.1l0.6 1l0.1 3l-1.6 3l-2.9 2.5l-11 5.1l-12 6.7l-5 0.9l-12-0.8l-8 0.5l-7 1.4l-3 1.1l-2.6 1.6l-2.4 2.5l-1.7 3.5l-2.3 14l-1.2 5l-2.8 8.3l-4.6 10.7l-6.6 0l6.2-10.6l4.2-9.4l1.9-8l1-13l0.9-2.9l1-1.7l2-1.8l3.1-1.6l15.9-4.6l5.8-2.4l3.7-3l2-4l0.4-5l-0.7-6l-1.6-4l-2.7-3l-3.9-1.9l-5-1l-7-0.3l-6 0.7l-4 1.2l-3 1.5l-2.4 1.8l-2.6 2.9l-2.9 5.1l-4.1 11.8l-2.2 3.2l-4.4 3l-7.4 3l0-6l5-2.7l3.6-3.3l2.4-3.6l5.8-11.4l2.3-3l2.9-2.6l4-2.3l4-1.4l16-2.4l5.6-1.3l4.3-2l1.2-1l1.5-2l0.6-4l-0.5-3l-1.2-4l-2-4l-6.5-10l-1.9-5l-0.4-5l0.9-10l0.4 0z" fill="#90ff80" stroke="#90ff80" stroke-width="0.3" fill-rule="evenodd"/><path d="M191 427.8l14.1 0l0.7 2l0.9 6l-1 7l-2.7 6.2l-2 2.6l-2 1.4l-3 0.1l-4-2.1l-4-3.7l-2-3.5l-0.5-3l0.8-4l2.5-6l2.2-3zM171 483.8l6-0.1l6 0.7l4 1.2l3.1 2.2l2 3l1.5 5l0.3 6l-0.4 3l-0.8 2l-2.2 3l-4.5 2.9l-5 1.8l-14 4l-3 1.3l-2.6 2l-1.4 2l-0.9 3l-1 13l-1.6 7l-3.5 8.5l-5 9l-2.2 3.5l-11.8 0l0-10.3l7-5.1l5-5.3l3-4.7l1-2.6l0.2-2l-0.4-2l-0.9-2l-1.9-2.1l-2-1.2l-2-0.5l-3 0l-6 1.7l0-13.9l8-3.3l2.6-1.7l2.1-2l1.7-3l4.7-13l1.9-3.1l2.6-2.9l2.4-1.8l3-1.5l4-1.2l4-0.5zM167.6 491.8l-3.6 1.8l-2 2.2l-1.2 3l0.1 4l1.1 2.2l2.1 1.8l2.9 0.9l4-0.2l4-1.6l2.4-2.1l1.5-3l0.1-3l-1.3-3l-2.7-2.2l-4-1.1l-3.4 0.3z" fill="#c0c8f4" stroke="#c0c8f4" stroke-width="0.3" fill-rule="evenodd"/><path d="M168 491.7l4-0.1l3.3 1.2l2.7 2.5l0.8 1.5l0.4 2l-0.6 3l-2.2 3l-3.4 2.1l-4 0.9l-3-0.3l-3-1.5l-1.7-2.2l-0.7-3l0.5-3l1.6-3l2.3-1.9l3-1.2zM168.5 497.8l-0.6 1l1.1 1l1-1l-0.7-1l-0.8 0zM137 530.6l5-0.7l4 1.1l2 1.6l1 1.4l1 2.6l0.1 2.2l-1.3 4l-3.8 5.6l-5 4.8l-6 4.3l0-25.8l3-1.1z" fill="#b0ff40" stroke="#b0ff40" stroke-width="0.3" fill-rule="evenodd"/><path d="M169 497.7l1 1.1l-1 1l-1.1-1l0.1-0.5l1-0.6z" fill="#e8f040" stroke="#e8f040" stroke-width="0.3" fill-rule="evenodd"/></g>
<path d="M190.4 432.8 L197.8 424.5 Q200.0 422.5 202.2 424.5 L208.6 432.8" fill="none" stroke="#777" stroke-width="1"/>
<path d="M140.7 484.8 Q135.4 483.3 135.1 489.8 L134.8 505.8 Q134.6 516.3 139.5 515.3" fill="none" stroke="#777" stroke-width="1"/>
<path d="M259.3 484.8 Q264.6 483.3 264.9 489.8 L265.2 505.8 Q265.4 516.3 260.5 515.3" fill="none" stroke="#777" stroke-width="1"/>
<ellipse cx="200" cy="497.8" rx="60.3" ry="64.7" fill="none" stroke="#1c3434" stroke-width="1.35"/>
<g fill="#173030"><circle cx="181.0" cy="434.8" r="2.35"/><circle cx="219.0" cy="434.8" r="2.35"/><circle cx="149.0" cy="457.3" r="2.35"/><circle cx="173.5" cy="464.0" r="2.35"/><circle cx="200.0" cy="464.8" r="2.35"/><circle cx="226.5" cy="464.0" r="2.35"/><circle cx="251.0" cy="457.3" r="2.35"/><circle cx="136.0" cy="497.8" r="2.35"/><circle cx="168.2" cy="497.8" r="2.35"/><circle cx="200.0" cy="497.8" r="2.35"/><circle cx="231.8" cy="497.8" r="2.35"/><circle cx="264.0" cy="497.8" r="2.35"/><circle cx="149.0" cy="538.1" r="2.35"/><circle cx="173.5" cy="531.8" r="2.35"/><circle cx="200.0" cy="530.8" r="2.35"/><circle cx="226.5" cy="531.8" r="2.35"/><circle cx="251.0" cy="538.1" r="2.35"/><circle cx="181.0" cy="560.8" r="2.35"/><circle cx="219.0" cy="560.8" r="2.35"/></g>
<clipPath id="clip11"><ellipse cx="361" cy="497.8" rx="63.3" ry="67.8"/></clipPath><g clip-path="url(#clip11)"><path d="M331 453.8l3-0.5l4 0.7l4 2.4l3.1 3.4l2.5 4l9.6 18l0.6 4l-0.7 2l-1.1 1.3l-2 1l-3 0.4l-3-0.5l-4-1.3l-13-6.1l-4-2.8l-2.7-3l-1.6-3l-0.7-3l-0.2-3l0.7-4l1.5-3.7l2-2.9l2-1.8l3-1.6z" fill="#88ccff" stroke="#88ccff" stroke-width="0.3" fill-rule="evenodd"/><path d="M320 428.7l1.7-0.9l21.5 0l5 4l7.8 9.8l4 4.1l5 3.4l4 1l2-0.3l1.6-1l1.9-3l0.8-4l0.5-9l1.2-5l50 0l0 140l-71.1 0l18.9-15l18.8-11l3.5-3l2.5-3l1.6-3l0.9-3l0.2-4l-0.6-3l-1.3-3l-2.4-3l-2-1.6l-3-1.4l-3-0.7l-4-0.3l-18 1.4l-11-0.4l-11-2l-17-5l-3-0.4l-4 0l-6.4 1.4l-6.8 3l-6.1 4l-7.7 6.4l0-59.2l5.7-8.2l5.9-11l3.3-5l4.5-5l5.6-4.1zM331 453.8l-3 1.6l-2 1.8l-2 2.9l-1.5 3.7l-0.7 4l0.2 3l0.7 3l1.6 3l2.7 3l4 2.8l13 6.1l4 1.3l3 0.5l3-0.4l2-1l1.1-1.3l0.7-2l-0.6-4l-9.6-18l-2.5-4l-3.1-3.4l-4-2.4l-4-0.7l-3 0.5zM295.2 566.8l1.1 1l-1.3 0l0.2-1z" fill="#90ffd8" stroke="#90ffd8" stroke-width="0.3" fill-rule="evenodd"/><path d="M296 427.8l25.7 0l-6.2 4l-5.5 5.8l-3.4 5.2l-5.9 11l-5.7 8.2l0-34.2l1 0zM344 427.8l33 0l-1.3 6l-0.6 10l-1.6 4l-1.5 1.5l-3 0.8l-3-0.5l-3-1.6l-3-2.3l-3-2.9l-8-10.2l-3-2.9l-2.8-1.9l0.8 0zM320 506.7l5-0.4l4 0.5l18 5.3l11 1.8l11 0.3l17-1.4l4 0.3l3 0.7l3 1.4l2 1.6l2.9 4l1.4 5l-0.1 3l-0.6 3l-2.7 5l-4 4l-4.3 3l-11.6 6.4l-5 3.2l-18.1 14.4l-59.6 0l-1.3-1.2l0-45.4l6.4-5.4l6.6-4.5l6-2.9l6-1.7z" fill="#90ff80" stroke="#90ff80" stroke-width="0.3" fill-rule="evenodd"/></g>
<path d="M351.4 432.8 L358.8 424.5 Q361.0 422.5 363.2 424.5 L369.6 432.8" fill="none" stroke="#777" stroke-width="1"/>
<path d="M301.7 484.8 Q296.4 483.3 296.1 489.8 L295.8 505.8 Q295.6 516.3 300.5 515.3" fill="none" stroke="#777" stroke-width="1"/>
<path d="M420.3 484.8 Q425.6 483.3 425.9 489.8 L426.2 505.8 Q426.4 516.3 421.5 515.3" fill="none" stroke="#777" stroke-width="1"/>
<ellipse cx="361" cy="497.8" rx="60.3" ry="64.7" fill="none" stroke="#1c3434" stroke-width="1.35"/>
<g fill="#173030"><circle cx="342.0" cy="434.8" r="2.35"/><circle cx="380.0" cy="434.8" r="2.35"/><circle cx="310.0" cy="457.3" r="2.35"/><circle cx="334.5" cy="464.0" r="2.35"/><circle cx="361.0" cy="464.8" r="2.35"/><circle cx="387.5" cy="464.0" r="2.35"/><circle cx="412.0" cy="457.3" r="2.35"/><circle cx="297.0" cy="497.8" r="2.35"/><circle cx="329.2" cy="497.8" r="2.35"/><circle cx="361.0" cy="497.8" r="2.35"/><circle cx="392.8" cy="497.8" r="2.35"/><circle cx="425.0" cy="497.8" r="2.35"/><circle cx="310.0" cy="538.1" r="2.35"/><circle cx="334.5" cy="531.8" r="2.35"/><circle cx="361.0" cy="530.8" r="2.35"/><circle cx="387.5" cy="531.8" r="2.35"/><circle cx="412.0" cy="538.1" r="2.35"/><circle cx="342.0" cy="560.8" r="2.35"/><circle cx="380.0" cy="560.8" r="2.35"/></g>
<clipPath id="clip12"><ellipse cx="522" cy="497.8" rx="63.3" ry="67.8"/></clipPath><g clip-path="url(#clip12)"><path d="M588 486.8l0 81l-35.5 0l-4.5-2.5l-8-5.2l-6-4.5l-5-4.4l-5-5.3l-6-8.1l-6.9-14l-3.1-4.5l-4-3l-3-0.9l-3-0.3l-5 0.8l-4 1.8l-3.7 3.1l-3 4l-2.7 6l-4.1 14l-8.4 23l-11.1 0l0-72.4l14 3.2l7 0.3l5-1.2l8-3.6l6-2.1l5-1.1l4-0.2l5 1.2l10 5.1l5 1.6l22 3.6l10 0.4l7-1.2l6-2.3l5-3l13-9.3z" fill="#88ccff" stroke="#88ccff" stroke-width="0.3" fill-rule="evenodd"/><path d="M476 427.8l56.5 0l-0.5 9l0.2 5l0.8 5l1.4 4l2.5 4l3.1 2.9l3 1.6l4 0.9l3.3-0.4l3.7-1.5l3-2.1l3-3l3.5-4.4l4.1-6l8.5-15l11.9 0l0 59l-13 9.3l-5 3l-6 2.3l-7 1.2l-10-0.4l-22-3.6l-5-1.6l-10-5.1l-5-1.2l-4 0.2l-5 1.1l-6 2.1l-8 3.6l-5 1.2l-7-0.3l-14-3.2l0-18.9l10 3.5l4 0.6l3-0.1l3-0.8l2.8-1.9l1.6-2l1.4-3l0.8-6l-0.5-10l-1.5-8l-4.7-18l-0.5-3l0.6 0zM494 515.6l4-0.5l3 0.3l3 0.9l3 2l2 2.2l2 3l7 14.3l4 5.6l4 4.7l5 5l6 4.9l8 5.4l7.5 4.4l-85.4 0l8.4-23l4.1-14l2.2-5l2.2-3.5l3-3.1l3-2l4-1.6z" fill="#90ffd8" stroke="#90ffd8" stroke-width="0.3" fill-rule="evenodd"/><path d="M457 427.8l18.4 0l5.9 24l1 7l0.4 7l-0.4 5l-1.3 4l-2.2 3l-1.8 1.4l-2 0.9l-4 0.5l-4-0.4l-5-1.4l-6-2.3l0-48.7l1 0zM533 427.8l43.1 0l-8.5 15l-4.1 6l-3.5 4.4l-3 3l-3 2.1l-3.7 1.5l-3.3 0.4l-4-0.9l-4-2.3l-2.9-3.2l-2.1-4l-1.4-5l-0.5-5l0.4-12l0.5 0z" fill="#90ff80" stroke="#90ff80" stroke-width="0.3" fill-rule="evenodd"/></g>
<path d="M512.4 432.8 L519.8 424.5 Q522.0 422.5 524.2 424.5 L530.6 432.8" fill="none" stroke="#777" stroke-width="1"/>
<path d="M462.7 484.8 Q457.4 483.3 457.1 489.8 L456.8 505.8 Q456.6 516.3 461.5 515.3" fill="none" stroke="#777" stroke-width="1"/>
<path d="M581.3 484.8 Q586.6 483.3 586.9 489.8 L587.2 505.8 Q587.4 516.3 582.5 515.3" fill="none" stroke="#777" stroke-width="1"/>
<ellipse cx="522" cy="497.8" rx="60.3" ry="64.7" fill="none" stroke="#1c3434" stroke-width="1.35"/>
<g fill="#173030"><circle cx="503.0" cy="434.8" r="2.35"/><circle cx="541.0" cy="434.8" r="2.35"/><circle cx="471.0" cy="457.3" r="2.35"/><circle cx="495.5" cy="464.0" r="2.35"/><circle cx="522.0" cy="464.8" r="2.35"/><circle cx="548.5" cy="464.0" r="2.35"/><circle cx="573.0" cy="457.3" r="2.35"/><circle cx="458.0" cy="497.8" r="2.35"/><circle cx="490.2" cy="497.8" r="2.35"/><circle cx="522.0" cy="497.8" r="2.35"/><circle cx="553.8" cy="497.8" r="2.35"/><circle cx="586.0" cy="497.8" r="2.35"/><circle cx="471.0" cy="538.1" r="2.35"/><circle cx="495.5" cy="531.8" r="2.35"/><circle cx="522.0" cy="530.8" r="2.35"/><circle cx="548.5" cy="531.8" r="2.35"/><circle cx="573.0" cy="538.1" r="2.35"/><circle cx="503.0" cy="560.8" r="2.35"/><circle cx="541.0" cy="560.8" r="2.35"/></g>
<clipPath id="clip13"><ellipse cx="683.5" cy="497.8" rx="63.3" ry="67.8"/></clipPath><g clip-path="url(#clip13)"><path d="M626.5 427.8l65.6 0l-4.1 13l-3.5 7.2l-2.3 2.8l-2.7 2l-2 0.8l-3 0.3l-4-0.8l-5-2.2l-22-14.6l-7-3.9l-10.6-4.6l0.6 0zM748.5 427.8l1 0l0 140l-15.2 0l-1.6-14l-5.4-35l-0.3-9l1-5l1.4-4l10.4-18l2.5-6l1.9-6l1.9-9l2.3-16l0.4-9l-1-9l0.7 0zM618.3 478.8l24.2 1.4l10 1.5l7 1.8l5 2.3l3.5 3l2.4 4l0.9 4l-0.2 3l-0.7 3l-1.4 3l-2.2 3l-5.3 5l-12.9 9l-3 3l-2.1 2.8l-2.3 4.2l-6.7 15.5l-11 19.5l-6 0l0-89.1l0.8 0.1z" fill="#c0c8f4" stroke="#c0c8f4" stroke-width="0.3" fill-rule="evenodd"/><path d="M618.5 427.8l7.4 0l7.6 3.1l12 6.6l20 13.4l5 2.2l4 0.8l3-0.3l2-0.8l2.7-2l2.3-2.8l3.5-7.2l4.1-13l55.7 0l1 8l-0.3 9l-2.3 16l-2 10l-1.9 6l-2.5 6l-10.4 18l-1.4 4l-1 5l0.3 9l5.4 35l1.6 14l-20.6 0l2-11l1.2-12l0-9l-1-6l-1.4-4.1l-2-4l-5-7l-5-4.8l-3-1.6l-2-0.4l-3 0.4l-4 1.9l-14.6 9.6l-16.4 8.4l-4 3.4l-2.2 4.2l-1.9 7l-1.8 13l-0.8 12l-25.3 0l11-19.5l6.7-15.5l2.3-4.2l2.1-2.8l3-3l12.9-9l5.3-5l2.2-3l1.4-3l0.7-3l0.2-3l-0.9-4l-2.4-4l-3.5-3l-5-2.3l-7-1.8l-10-1.5l-25-1.5l0-50.9l1 0zM710.8 434.8l-2.5 1l-2.8 2l-4 5.7l-7.1 14.3l-2 6l-1.2 5l-0.4 4l0.2 3l1.8 6l1.7 3l2 2.6l2 1.7l3 1.1l3-0.2l5-1.8l5-2.8l4-3l3.5-3.6l2.5-3.6l2-4.4l1.1-4l0.5-6l-0.5-8l-1.1-6l-2-5l-3-4l-3-2.2l-4-1.1l-3.7 0.3zM647.7 458.8l-1.9 2l-0.2 2l1.5 3l2.3 2l3.1 1.5l4 0.7l3-0.5l2.3-1.7l0.7-2l-0.4-2l-1.1-2l-2.3-2l-2.2-1.1l-3-0.7l-3 0l-2.8 0.8z" fill="#b0ff40" stroke="#b0ff40" stroke-width="0.3" fill-rule="evenodd"/><path d="M711.5 434.6l4 0l4 1.6l3 2.6l2.5 4l1.5 4l1.1 6l0.5 8l-0.5 6l-1.1 4l-2 4.4l-2.5 3.6l-3.5 3.6l-4 3l-5 2.8l-5 1.8l-3 0.2l-3-1.1l-2-1.7l-2-2.6l-1.7-3l-1.8-6l-0.2-3l0.4-4l1.2-5l2-6l7.1-14.3l3-4.5l2-2.1l2-1.2l3-1.1zM648.5 458.5l2-0.5l3 0l3 0.7l2.2 1.1l2.3 2l1.1 2l0.4 2l-0.7 2l-2.3 1.7l-3 0.5l-4-0.7l-3.1-1.5l-2.3-2l-1.5-3l0.2-2l0.6-1l2.1-1.3zM693.5 508.7l3-0.8l3 0.4l2 0.9l3 2.3l6 7.1l3 5l1.8 4.2l1.5 7l0.2 8l-1 12l-2.3 13l-64.9 0l0.8-12l1.6-12l1.7-7l2.4-5l1.9-2l2.3-1.6l16.4-8.4l13.6-9l4-2.1z" fill="#e8f040" stroke="#e8f040" stroke-width="0.3" fill-rule="evenodd"/></g>
<path d="M673.9 432.8 L681.3 424.5 Q683.5 422.5 685.7 424.5 L692.1 432.8" fill="none" stroke="#777" stroke-width="1"/>
<path d="M624.2 484.8 Q618.9 483.3 618.6 489.8 L618.3 505.8 Q618.1 516.3 623.0 515.3" fill="none" stroke="#777" stroke-width="1"/>
<path d="M742.8 484.8 Q748.1 483.3 748.4 489.8 L748.7 505.8 Q748.9 516.3 744.0 515.3" fill="none" stroke="#777" stroke-width="1"/>
<ellipse cx="683.5" cy="497.8" rx="60.3" ry="64.7" fill="none" stroke="#1c3434" stroke-width="1.35"/>
<g fill="#173030"><circle cx="664.5" cy="434.8" r="2.35"/><circle cx="702.5" cy="434.8" r="2.35"/><circle cx="632.5" cy="457.3" r="2.35"/><circle cx="657.0" cy="464.0" r="2.35"/><circle cx="683.5" cy="464.8" r="2.35"/><circle cx="710.0" cy="464.0" r="2.35"/><circle cx="734.5" cy="457.3" r="2.35"/><circle cx="619.5" cy="497.8" r="2.35"/><circle cx="651.7" cy="497.8" r="2.35"/><circle cx="683.5" cy="497.8" r="2.35"/><circle cx="715.3" cy="497.8" r="2.35"/><circle cx="747.5" cy="497.8" r="2.35"/><circle cx="632.5" cy="538.1" r="2.35"/><circle cx="657.0" cy="531.8" r="2.35"/><circle cx="683.5" cy="530.8" r="2.35"/><circle cx="710.0" cy="531.8" r="2.35"/><circle cx="734.5" cy="538.1" r="2.35"/><circle cx="664.5" cy="560.8" r="2.35"/><circle cx="702.5" cy="560.8" r="2.35"/></g>
<clipPath id="clip14"><ellipse cx="844.6" cy="497.8" rx="63.3" ry="67.8"/></clipPath><g clip-path="url(#clip14)"><path d="M779.6 427.8l91 0l-2.5 4l-1.5 3.3l-2.6 13.7l-3.2 9l-2.1 4l-2.1 2.6l-2 1.7l-2 0.9l-3 0.2l-2-0.5l-2-1.1l-8.3-8.8l-9.7-8.6l-6-4l-5-1.9l-4-0.8l-4-0.3l-7 1l-4 1.5l-3 1.7l-5 4.4l-2.2 3l-1.5 3l-1.1 3l-0.6 4l0.1 3l0.7 3l1.2 3l2 3l4.3 4l5.6 3l5.9 2l15.8 4l7.8 3.3l3 2.3l1.8 2.4l1.2 3l0.1 4l-1.5 5l-3.5 5l-4.6 4l-5.5 3.2l-7 2.9l-7 2.1l-26 4.6l0-101.8l1 0z" fill="#c0c8f4" stroke="#c0c8f4" stroke-width="0.3" fill-rule="evenodd"/><path d="M870.6 427.8l40 0l0 73.1l-5 1.5l-13 2.2l-7 1.7l-38 13.6l-6 3.1l-12 7.3l-10.7 5.5l-10.3 6.4l-14.6 7.6l-15.4 9.7l0-29.9l26-4.6l7-2.1l7-2.9l5.5-3.2l4.6-4l3.5-5l1.5-5l-0.1-4l-1.2-3l-1.8-2.4l-3-2.3l-7.8-3.3l-15.8-4l-5.4-1.8l-5-2.5l-4.6-3.7l-3.3-5l-1-3l-0.5-3l0.1-3l0.8-4l3-6l4.6-5l2.9-2l4-1.9l4-1.2l4-0.4l4 0.1l4 0.6l6 2.2l6 4l9.7 8.6l8.3 8.8l2 1.1l2 0.5l3-0.2l2-0.9l2-1.7l2.1-2.6l2.1-4l3.2-9l2.6-13.7l1.5-3.3l2.5-4zM809.3 454.8l-2.7 1.1l-2.6 1.9l-1.7 2l-1.3 3l-0.3 2l0.4 3l1.2 3l1.5 2l2.2 2l3.6 2.1l4 1.5l4 0.9l4 0.2l3-0.3l3-0.9l2.4-1.5l2.1-3l0.5-2l0.1-3l-1.3-5l-3.3-5l-3.5-2.9l-4-1.7l-4-0.4l-7.3 1z" fill="#b0ff40" stroke="#b0ff40" stroke-width="0.3" fill-rule="evenodd"/><path d="M809.6 454.7l7-0.9l4 0.4l4 1.7l3.5 2.9l3.3 5l1.3 5l-0.1 3l-0.5 2l-2.1 3l-2.4 1.5l-3 0.9l-3 0.3l-4-0.2l-4-0.9l-4-1.5l-3.6-2.1l-2.2-2l-1.5-2l-1.2-3l-0.4-3l0.7-3l1.2-2.4l2-2.1l2.2-1.5l2.8-1.1zM816.5 461.8l-1.8 1l-0.9 1l-0.5 1l0 2l1.3 2l1 0.6l2 0.6l2-0.2l1.6-1l0.7-1l0.3-1l-0.1-2l-1.2-2l-1.3-0.8l-3.1-0.2zM908.6 501.6l2-0.7l0 13.6l-11 2.6l-6 1.9l-5 2.2l-5 3l-4.3 3.6l-7.7 7.6l-12.3 9.4l-4.6 4l-17.6 19l-58.5 0l0-8.3l15.4-9.7l14.6-7.6l10.3-6.4l10.7-5.5l15-9l7-3l13-4.3l20-7.4l7-1.8l17-3.2z" fill="#e8f040" stroke="#e8f040" stroke-width="0.3" fill-rule="evenodd"/><path d="M816.6 461.8l3 0.2l1.3 0.8l1.2 2l0.1 2l-0.3 1l-0.7 1l-1.6 1l-2 0.2l-2-0.6l-1-0.6l-1.3-2l0-2l0.5-1l0.9-1l1.9-1zM909.6 514.8l1-0.3l0 11.7l-8 1.6l-6 1.9l-4 2.1l-4 3.1l-3.5 3.9l-4.2 6l-13.5 23l-30.3 0l17.6-19l4.6-4l12.3-9.4l7.7-7.6l4.3-3.6l5-3l5-2.2l6-1.9l10-2.3z" fill="#f4c840" stroke="#f4c840" stroke-width="0.3" fill-rule="evenodd"/><path d="M907.6 526.8l3-0.6l0 13.7l-8 2.1l-3 1.6l-2.3 2.2l-4.4 7l-6.8 15l-18.7 0l12.9-22l4.1-6l3.3-4l3.9-3.4l4-2.2l5-1.9l7-1.5z" fill="#e07820" stroke="#e07820" stroke-width="0.3" fill-rule="evenodd"/><path d="M906.6 540.7l4-0.8l0 27.9l-24.5 0l6.5-14.4l4-6.8l2-2.1l2-1.5l6-2.3z" fill="#e00000" stroke="#e00000" stroke-width="0.3" fill-rule="evenodd"/></g>
<path d="M835.0 432.8 L842.4 424.5 Q844.6 422.5 846.8 424.5 L853.2 432.8" fill="none" stroke="#777" stroke-width="1"/>
<path d="M785.3 484.8 Q780.0 483.3 779.7 489.8 L779.4 505.8 Q779.2 516.3 784.1 515.3" fill="none" stroke="#777" stroke-width="1"/>
<path d="M903.9 484.8 Q909.2 483.3 909.5 489.8 L909.8 505.8 Q910.0 516.3 905.1 515.3" fill="none" stroke="#777" stroke-width="1"/>
<ellipse cx="844.6" cy="497.8" rx="60.3" ry="64.7" fill="none" stroke="#1c3434" stroke-width="1.35"/>
<g fill="#173030"><circle cx="825.6" cy="434.8" r="2.35"/><circle cx="863.6" cy="434.8" r="2.35"/><circle cx="793.6" cy="457.3" r="2.35"/><circle cx="818.1" cy="464.0" r="2.35"/><circle cx="844.6" cy="464.8" r="2.35"/><circle cx="871.1" cy="464.0" r="2.35"/><circle cx="895.6" cy="457.3" r="2.35"/><circle cx="780.6" cy="497.8" r="2.35"/><circle cx="812.8" cy="497.8" r="2.35"/><circle cx="844.6" cy="497.8" r="2.35"/><circle cx="876.4" cy="497.8" r="2.35"/><circle cx="908.6" cy="497.8" r="2.35"/><circle cx="793.6" cy="538.1" r="2.35"/><circle cx="818.1" cy="531.8" r="2.35"/><circle cx="844.6" cy="530.8" r="2.35"/><circle cx="871.1" cy="531.8" r="2.35"/><circle cx="895.6" cy="538.1" r="2.35"/><circle cx="825.6" cy="560.8" r="2.35"/><circle cx="863.6" cy="560.8" r="2.35"/></g>

<path d="M187.9 591.4 L195.3 583.1 Q197.5 581.1 199.7 583.1 L206.1 591.4" fill="none" stroke="#777" stroke-width="1"/>
<path d="M138.2 643.4 Q132.9 641.9 132.6 648.4 L132.3 664.4 Q132.1 674.9 137.0 673.9" fill="none" stroke="#777" stroke-width="1"/>
<path d="M256.8 643.4 Q262.1 641.9 262.4 648.4 L262.7 664.4 Q262.9 674.9 258.0 673.9" fill="none" stroke="#777" stroke-width="1"/>
<ellipse cx="197.5" cy="656.4" rx="60.3" ry="64.7" fill="none" stroke="#1c1c1c" stroke-width="1.45"/>
<g fill="#111"><circle cx="178.5" cy="593.4" r="2.6"/><circle cx="216.5" cy="593.4" r="2.6"/><circle cx="146.5" cy="615.9" r="2.6"/><circle cx="171.0" cy="622.6" r="2.6"/><circle cx="197.5" cy="623.4" r="2.6"/><circle cx="224.0" cy="622.6" r="2.6"/><circle cx="248.5" cy="615.9" r="2.6"/><circle cx="133.5" cy="656.4" r="2.6"/><circle cx="165.7" cy="656.4" r="2.6"/><circle cx="197.5" cy="656.4" r="2.6"/><circle cx="229.3" cy="656.4" r="2.6"/><circle cx="261.5" cy="656.4" r="2.6"/><circle cx="146.5" cy="696.7" r="2.6"/><circle cx="171.0" cy="690.4" r="2.6"/><circle cx="197.5" cy="689.4" r="2.6"/><circle cx="224.0" cy="690.4" r="2.6"/><circle cx="248.5" cy="696.7" r="2.6"/><circle cx="178.5" cy="719.4" r="2.6"/><circle cx="216.5" cy="719.4" r="2.6"/></g>
<g stroke-width="1.75" stroke-linecap="round"><line x1="178.5" y1="593.4" x2="216.5" y2="593.4" stroke="#d61a1a"/><line x1="178.5" y1="593.4" x2="146.5" y2="615.9" stroke="#d61a1a"/><line x1="216.5" y1="593.4" x2="146.5" y2="615.9" stroke="#d61a1a"/><line x1="178.5" y1="593.4" x2="248.5" y2="615.9" stroke="#d61a1a"/><line x1="178.5" y1="593.4" x2="224.0" y2="622.6" stroke="#d61a1a"/><line x1="178.5" y1="593.4" x2="165.7" y2="656.4" stroke="#d61a1a"/><line x1="171.0" y1="622.6" x2="224.0" y2="622.6" stroke="#d61a1a"/><line x1="197.5" y1="623.4" x2="178.5" y2="719.4" stroke="#d61a1a"/><line x1="165.7" y1="656.4" x2="229.3" y2="656.4" stroke="#d61a1a"/><line x1="146.5" y1="615.9" x2="197.5" y2="623.4" stroke="#1e1ed6"/><line x1="146.5" y1="615.9" x2="261.5" y2="656.4" stroke="#1e1ed6"/><line x1="146.5" y1="615.9" x2="248.5" y2="696.7" stroke="#1e1ed6"/><line x1="146.5" y1="615.9" x2="165.7" y2="656.4" stroke="#1e1ed6"/><line x1="146.5" y1="615.9" x2="133.5" y2="656.4" stroke="#1e1ed6"/><line x1="146.5" y1="615.9" x2="146.5" y2="696.7" stroke="#1e1ed6"/><line x1="171.0" y1="622.6" x2="146.5" y2="696.7" stroke="#1e1ed6"/><line x1="165.7" y1="656.4" x2="224.0" y2="622.6" stroke="#1e1ed6"/><line x1="165.7" y1="656.4" x2="248.5" y2="615.9" stroke="#1e1ed6"/><line x1="224.0" y1="622.6" x2="261.5" y2="656.4" stroke="#1e1ed6"/><line x1="248.5" y1="615.9" x2="146.5" y2="696.7" stroke="#1e1ed6"/><line x1="224.0" y1="622.6" x2="146.5" y2="696.7" stroke="#1e1ed6"/><line x1="197.5" y1="623.4" x2="146.5" y2="696.7" stroke="#1e1ed6"/><line x1="229.3" y1="656.4" x2="146.5" y2="696.7" stroke="#1e1ed6"/><line x1="261.5" y1="656.4" x2="146.5" y2="696.7" stroke="#1e1ed6"/><line x1="165.7" y1="656.4" x2="224.0" y2="690.4" stroke="#d61a1a"/><line x1="165.7" y1="656.4" x2="197.5" y2="689.4" stroke="#d61a1a"/><line x1="165.7" y1="656.4" x2="216.5" y2="719.4" stroke="#d61a1a"/><line x1="165.7" y1="656.4" x2="178.5" y2="719.4" stroke="#d61a1a"/><line x1="133.5" y1="656.4" x2="171.0" y2="690.4" stroke="#d61a1a"/><line x1="146.5" y1="696.7" x2="224.0" y2="690.4" stroke="#d61a1a"/><line x1="146.5" y1="696.7" x2="248.5" y2="696.7" stroke="#d61a1a"/><line x1="146.5" y1="696.7" x2="171.0" y2="690.4" stroke="#d61a1a"/><line x1="146.5" y1="696.7" x2="197.5" y2="689.4" stroke="#d61a1a"/><line x1="146.5" y1="696.7" x2="178.5" y2="719.4" stroke="#d61a1a"/><line x1="146.5" y1="696.7" x2="216.5" y2="719.4" stroke="#d61a1a"/><line x1="178.5" y1="719.4" x2="224.0" y2="690.4" stroke="#d61a1a"/><line x1="178.5" y1="719.4" x2="248.5" y2="696.7" stroke="#d61a1a"/><line x1="178.5" y1="719.4" x2="197.5" y2="689.4" stroke="#d61a1a"/><line x1="178.5" y1="719.4" x2="171.0" y2="690.4" stroke="#d61a1a"/><line x1="178.5" y1="719.4" x2="197.5" y2="656.4" stroke="#d61a1a"/><line x1="178.5" y1="719.4" x2="261.5" y2="656.4" stroke="#d61a1a"/><line x1="178.5" y1="719.4" x2="229.3" y2="656.4" stroke="#d61a1a"/><line x1="216.5" y1="719.4" x2="171.0" y2="690.4" stroke="#d61a1a"/><line x1="248.5" y1="696.7" x2="216.5" y2="719.4" stroke="#d61a1a"/></g>

<path d="M348.7 591.4 L356.1 583.1 Q358.3 581.1 360.5 583.1 L366.9 591.4" fill="none" stroke="#777" stroke-width="1"/>
<path d="M299.0 643.4 Q293.7 641.9 293.4 648.4 L293.1 664.4 Q292.9 674.9 297.8 673.9" fill="none" stroke="#777" stroke-width="1"/>
<path d="M417.6 643.4 Q422.9 641.9 423.2 648.4 L423.5 664.4 Q423.7 674.9 418.8 673.9" fill="none" stroke="#777" stroke-width="1"/>
<ellipse cx="358.3" cy="656.4" rx="60.3" ry="64.7" fill="none" stroke="#1c1c1c" stroke-width="1.45"/>
<g fill="#111"><circle cx="339.3" cy="593.4" r="2.6"/><circle cx="377.3" cy="593.4" r="2.6"/><circle cx="307.3" cy="615.9" r="2.6"/><circle cx="331.8" cy="622.6" r="2.6"/><circle cx="358.3" cy="623.4" r="2.6"/><circle cx="384.8" cy="622.6" r="2.6"/><circle cx="409.3" cy="615.9" r="2.6"/><circle cx="294.3" cy="656.4" r="2.6"/><circle cx="326.5" cy="656.4" r="2.6"/><circle cx="358.3" cy="656.4" r="2.6"/><circle cx="390.1" cy="656.4" r="2.6"/><circle cx="422.3" cy="656.4" r="2.6"/><circle cx="307.3" cy="696.7" r="2.6"/><circle cx="331.8" cy="690.4" r="2.6"/><circle cx="358.3" cy="689.4" r="2.6"/><circle cx="384.8" cy="690.4" r="2.6"/><circle cx="409.3" cy="696.7" r="2.6"/><circle cx="339.3" cy="719.4" r="2.6"/><circle cx="377.3" cy="719.4" r="2.6"/></g>
<g stroke-width="1.75" stroke-linecap="round"><line x1="339.3" y1="593.4" x2="377.3" y2="593.4" stroke="#d61a1a"/><line x1="339.3" y1="593.4" x2="307.3" y2="615.9" stroke="#d61a1a"/><line x1="339.3" y1="593.4" x2="409.3" y2="615.9" stroke="#d61a1a"/><line x1="339.3" y1="593.4" x2="331.8" y2="622.6" stroke="#d61a1a"/><line x1="339.3" y1="593.4" x2="358.3" y2="623.4" stroke="#d61a1a"/><line x1="339.3" y1="593.4" x2="384.8" y2="622.6" stroke="#d61a1a"/><line x1="339.3" y1="593.4" x2="377.3" y2="719.4" stroke="#d61a1a"/><line x1="339.3" y1="593.4" x2="409.3" y2="696.7" stroke="#d61a1a"/><line x1="326.5" y1="656.4" x2="390.1" y2="656.4" stroke="#d61a1a"/><line x1="307.3" y1="615.9" x2="307.3" y2="696.7" stroke="#1e1ed6"/><line x1="331.8" y1="622.6" x2="307.3" y2="696.7" stroke="#1e1ed6"/><line x1="384.8" y1="622.6" x2="307.3" y2="696.7" stroke="#1e1ed6"/><line x1="358.3" y1="656.4" x2="307.3" y2="696.7" stroke="#1e1ed6"/><line x1="390.1" y1="656.4" x2="307.3" y2="696.7" stroke="#1e1ed6"/><line x1="307.3" y1="615.9" x2="409.3" y2="696.7" stroke="#1e1ed6"/><line x1="384.8" y1="622.6" x2="409.3" y2="696.7" stroke="#1e1ed6"/><line x1="390.1" y1="656.4" x2="422.3" y2="656.4" stroke="#1e1ed6"/><line x1="384.8" y1="690.4" x2="409.3" y2="696.7" stroke="#1e1ed6"/><line x1="390.1" y1="656.4" x2="409.3" y2="696.7" stroke="#1e1ed6"/><line x1="384.8" y1="622.6" x2="422.3" y2="656.4" stroke="#1e1ed6"/><line x1="307.3" y1="696.7" x2="331.8" y2="690.4" stroke="#d61a1a"/><line x1="307.3" y1="696.7" x2="358.3" y2="689.4" stroke="#d61a1a"/><line x1="307.3" y1="696.7" x2="384.8" y2="690.4" stroke="#d61a1a"/><line x1="307.3" y1="696.7" x2="339.3" y2="719.4" stroke="#d61a1a"/><line x1="307.3" y1="696.7" x2="377.3" y2="719.4" stroke="#d61a1a"/><line x1="339.3" y1="719.4" x2="409.3" y2="696.7" stroke="#d61a1a"/><line x1="377.3" y1="719.4" x2="422.3" y2="656.4" stroke="#d61a1a"/><line x1="409.3" y1="696.7" x2="377.3" y2="719.4" stroke="#d61a1a"/></g>

<path d="M509.7 591.4 L517.1 583.1 Q519.3 581.1 521.5 583.1 L527.9 591.4" fill="none" stroke="#777" stroke-width="1"/>
<path d="M460.0 643.4 Q454.7 641.9 454.4 648.4 L454.1 664.4 Q453.9 674.9 458.8 673.9" fill="none" stroke="#777" stroke-width="1"/>
<path d="M578.6 643.4 Q583.9 641.9 584.2 648.4 L584.5 664.4 Q584.7 674.9 579.8 673.9" fill="none" stroke="#777" stroke-width="1"/>
<ellipse cx="519.3" cy="656.4" rx="60.3" ry="64.7" fill="none" stroke="#1c1c1c" stroke-width="1.45"/>
<g fill="#111"><circle cx="500.3" cy="593.4" r="2.6"/><circle cx="538.3" cy="593.4" r="2.6"/><circle cx="468.3" cy="615.9" r="2.6"/><circle cx="492.8" cy="622.6" r="2.6"/><circle cx="519.3" cy="623.4" r="2.6"/><circle cx="545.8" cy="622.6" r="2.6"/><circle cx="570.3" cy="615.9" r="2.6"/><circle cx="455.3" cy="656.4" r="2.6"/><circle cx="487.5" cy="656.4" r="2.6"/><circle cx="519.3" cy="656.4" r="2.6"/><circle cx="551.1" cy="656.4" r="2.6"/><circle cx="583.3" cy="656.4" r="2.6"/><circle cx="468.3" cy="696.7" r="2.6"/><circle cx="492.8" cy="690.4" r="2.6"/><circle cx="519.3" cy="689.4" r="2.6"/><circle cx="545.8" cy="690.4" r="2.6"/><circle cx="570.3" cy="696.7" r="2.6"/><circle cx="500.3" cy="719.4" r="2.6"/><circle cx="538.3" cy="719.4" r="2.6"/></g>
<g stroke-width="1.75" stroke-linecap="round"><line x1="500.3" y1="593.4" x2="538.3" y2="593.4" stroke="#d61a1a"/><line x1="500.3" y1="593.4" x2="468.3" y2="615.9" stroke="#d61a1a"/><line x1="500.3" y1="593.4" x2="492.8" y2="622.6" stroke="#d61a1a"/><line x1="500.3" y1="593.4" x2="545.8" y2="622.6" stroke="#d61a1a"/><line x1="500.3" y1="593.4" x2="551.1" y2="656.4" stroke="#d61a1a"/><line x1="500.3" y1="593.4" x2="545.8" y2="690.4" stroke="#d61a1a"/><line x1="455.3" y1="656.4" x2="551.1" y2="656.4" stroke="#d61a1a"/><line x1="455.3" y1="656.4" x2="545.8" y2="690.4" stroke="#d61a1a"/><line x1="545.8" y1="690.4" x2="583.3" y2="656.4" stroke="#d61a1a"/><line x1="570.3" y1="696.7" x2="500.3" y2="719.4" stroke="#d61a1a"/><line x1="551.1" y1="656.4" x2="583.3" y2="656.4" stroke="#1e1ed6"/><line x1="545.8" y1="690.4" x2="570.3" y2="696.7" stroke="#1e1ed6"/></g>

<path d="M671.3 591.4 L678.7 583.1 Q680.9 581.1 683.1 583.1 L689.5 591.4" fill="none" stroke="#777" stroke-width="1"/>
<path d="M621.6 643.4 Q616.3 641.9 616.0 648.4 L615.7 664.4 Q615.5 674.9 620.4 673.9" fill="none" stroke="#777" stroke-width="1"/>
<path d="M740.2 643.4 Q745.5 641.9 745.8 648.4 L746.1 664.4 Q746.3 674.9 741.4 673.9" fill="none" stroke="#777" stroke-width="1"/>
<ellipse cx="680.9" cy="656.4" rx="60.3" ry="64.7" fill="none" stroke="#1c1c1c" stroke-width="1.45"/>
<g fill="#111"><circle cx="661.9" cy="593.4" r="2.6"/><circle cx="699.9" cy="593.4" r="2.6"/><circle cx="629.9" cy="615.9" r="2.6"/><circle cx="654.4" cy="622.6" r="2.6"/><circle cx="680.9" cy="623.4" r="2.6"/><circle cx="707.4" cy="622.6" r="2.6"/><circle cx="731.9" cy="615.9" r="2.6"/><circle cx="616.9" cy="656.4" r="2.6"/><circle cx="649.1" cy="656.4" r="2.6"/><circle cx="680.9" cy="656.4" r="2.6"/><circle cx="712.7" cy="656.4" r="2.6"/><circle cx="744.9" cy="656.4" r="2.6"/><circle cx="629.9" cy="696.7" r="2.6"/><circle cx="654.4" cy="690.4" r="2.6"/><circle cx="680.9" cy="689.4" r="2.6"/><circle cx="707.4" cy="690.4" r="2.6"/><circle cx="731.9" cy="696.7" r="2.6"/><circle cx="661.9" cy="719.4" r="2.6"/><circle cx="699.9" cy="719.4" r="2.6"/></g>
<g stroke-width="1.75" stroke-linecap="round"></g>

<path d="M832.6 591.4 L840.0 583.1 Q842.2 581.1 844.4 583.1 L850.8 591.4" fill="none" stroke="#777" stroke-width="1"/>
<path d="M782.9 643.4 Q777.6 641.9 777.3 648.4 L777.0 664.4 Q776.8 674.9 781.7 673.9" fill="none" stroke="#777" stroke-width="1"/>
<path d="M901.5 643.4 Q906.8 641.9 907.1 648.4 L907.4 664.4 Q907.6 674.9 902.7 673.9" fill="none" stroke="#777" stroke-width="1"/>
<ellipse cx="842.2" cy="656.4" rx="60.3" ry="64.7" fill="none" stroke="#1c1c1c" stroke-width="1.45"/>
<g fill="#111"><circle cx="823.2" cy="593.4" r="2.6"/><circle cx="861.2" cy="593.4" r="2.6"/><circle cx="791.2" cy="615.9" r="2.6"/><circle cx="815.7" cy="622.6" r="2.6"/><circle cx="842.2" cy="623.4" r="2.6"/><circle cx="868.7" cy="622.6" r="2.6"/><circle cx="893.2" cy="615.9" r="2.6"/><circle cx="778.2" cy="656.4" r="2.6"/><circle cx="810.4" cy="656.4" r="2.6"/><circle cx="842.2" cy="656.4" r="2.6"/><circle cx="874.0" cy="656.4" r="2.6"/><circle cx="906.2" cy="656.4" r="2.6"/><circle cx="791.2" cy="696.7" r="2.6"/><circle cx="815.7" cy="690.4" r="2.6"/><circle cx="842.2" cy="689.4" r="2.6"/><circle cx="868.7" cy="690.4" r="2.6"/><circle cx="893.2" cy="696.7" r="2.6"/><circle cx="823.2" cy="719.4" r="2.6"/><circle cx="861.2" cy="719.4" r="2.6"/></g>
<g stroke-width="1.75" stroke-linecap="round"><line x1="791.2" y1="615.9" x2="893.2" y2="696.7" stroke="#1e1ed6"/><line x1="842.2" y1="623.4" x2="893.2" y2="696.7" stroke="#1e1ed6"/><line x1="868.7" y1="622.6" x2="893.2" y2="696.7" stroke="#1e1ed6"/><line x1="810.4" y1="656.4" x2="893.2" y2="696.7" stroke="#1e1ed6"/><line x1="874.0" y1="656.4" x2="893.2" y2="696.7" stroke="#1e1ed6"/><line x1="815.7" y1="690.4" x2="893.2" y2="696.7" stroke="#1e1ed6"/><line x1="842.2" y1="689.4" x2="893.2" y2="696.7" stroke="#1e1ed6"/><line x1="868.7" y1="690.4" x2="893.2" y2="696.7" stroke="#1e1ed6"/><line x1="823.2" y1="719.4" x2="893.2" y2="696.7" stroke="#d61a1a"/><line x1="861.2" y1="719.4" x2="893.2" y2="696.7" stroke="#d61a1a"/></g>

<path d="M187.9 747.2 L195.3 738.9 Q197.5 736.9 199.7 738.9 L206.1 747.2" fill="none" stroke="#777" stroke-width="1"/>
<path d="M138.2 799.2 Q132.9 797.7 132.6 804.2 L132.3 820.2 Q132.1 830.7 137.0 829.7" fill="none" stroke="#777" stroke-width="1"/>
<path d="M256.8 799.2 Q262.1 797.7 262.4 804.2 L262.7 820.2 Q262.9 830.7 258.0 829.7" fill="none" stroke="#777" stroke-width="1"/>
<ellipse cx="197.5" cy="812.2" rx="60.3" ry="64.7" fill="none" stroke="#1c1c1c" stroke-width="1.45"/>
<g fill="#111"><circle cx="178.5" cy="749.2" r="2.6"/><circle cx="216.5" cy="749.2" r="2.6"/><circle cx="146.5" cy="771.7" r="2.6"/><circle cx="171.0" cy="778.4" r="2.6"/><circle cx="197.5" cy="779.2" r="2.6"/><circle cx="224.0" cy="778.4" r="2.6"/><circle cx="248.5" cy="771.7" r="2.6"/><circle cx="133.5" cy="812.2" r="2.6"/><circle cx="165.7" cy="812.2" r="2.6"/><circle cx="197.5" cy="812.2" r="2.6"/><circle cx="229.3" cy="812.2" r="2.6"/><circle cx="261.5" cy="812.2" r="2.6"/><circle cx="146.5" cy="852.5" r="2.6"/><circle cx="171.0" cy="846.2" r="2.6"/><circle cx="197.5" cy="845.2" r="2.6"/><circle cx="224.0" cy="846.2" r="2.6"/><circle cx="248.5" cy="852.5" r="2.6"/><circle cx="178.5" cy="875.2" r="2.6"/><circle cx="216.5" cy="875.2" r="2.6"/></g>
<g stroke-width="1.75" stroke-linecap="round"><line x1="178.5" y1="749.2" x2="216.5" y2="749.2" stroke="#1e1ed6"/><line x1="178.5" y1="749.2" x2="146.5" y2="771.7" stroke="#1e1ed6"/><line x1="178.5" y1="749.2" x2="248.5" y2="771.7" stroke="#1e1ed6"/><line x1="178.5" y1="749.2" x2="224.0" y2="778.4" stroke="#1e1ed6"/><line x1="178.5" y1="749.2" x2="133.5" y2="812.2" stroke="#1e1ed6"/><line x1="178.5" y1="749.2" x2="165.7" y2="812.2" stroke="#1e1ed6"/><line x1="178.5" y1="749.2" x2="197.5" y2="812.2" stroke="#1e1ed6"/><line x1="178.5" y1="749.2" x2="229.3" y2="812.2" stroke="#1e1ed6"/><line x1="178.5" y1="749.2" x2="261.5" y2="812.2" stroke="#1e1ed6"/><line x1="178.5" y1="749.2" x2="248.5" y2="852.5" stroke="#1e1ed6"/><line x1="178.5" y1="749.2" x2="178.5" y2="875.2" stroke="#1e1ed6"/><line x1="216.5" y1="749.2" x2="146.5" y2="771.7" stroke="#1e1ed6"/><line x1="216.5" y1="749.2" x2="133.5" y2="812.2" stroke="#1e1ed6"/><line x1="216.5" y1="749.2" x2="165.7" y2="812.2" stroke="#1e1ed6"/><line x1="216.5" y1="749.2" x2="146.5" y2="852.5" stroke="#1e1ed6"/><line x1="146.5" y1="771.7" x2="248.5" y2="771.7" stroke="#1e1ed6"/><line x1="146.5" y1="771.7" x2="224.0" y2="778.4" stroke="#1e1ed6"/><line x1="146.5" y1="771.7" x2="197.5" y2="779.2" stroke="#1e1ed6"/><line x1="146.5" y1="771.7" x2="133.5" y2="812.2" stroke="#1e1ed6"/><line x1="146.5" y1="771.7" x2="146.5" y2="852.5" stroke="#1e1ed6"/><line x1="146.5" y1="771.7" x2="229.3" y2="812.2" stroke="#1e1ed6"/><line x1="146.5" y1="771.7" x2="197.5" y2="845.2" stroke="#1e1ed6"/><line x1="146.5" y1="771.7" x2="224.0" y2="846.2" stroke="#1e1ed6"/><line x1="146.5" y1="771.7" x2="248.5" y2="852.5" stroke="#1e1ed6"/><line x1="146.5" y1="771.7" x2="216.5" y2="875.2" stroke="#1e1ed6"/><line x1="171.0" y1="778.4" x2="229.3" y2="812.2" stroke="#1e1ed6"/><line x1="171.0" y1="778.4" x2="248.5" y2="852.5" stroke="#1e1ed6"/><line x1="197.5" y1="779.2" x2="146.5" y2="852.5" stroke="#1e1ed6"/><line x1="197.5" y1="779.2" x2="178.5" y2="875.2" stroke="#1e1ed6"/><line x1="197.5" y1="779.2" x2="216.5" y2="875.2" stroke="#1e1ed6"/><line x1="224.0" y1="778.4" x2="133.5" y2="812.2" stroke="#1e1ed6"/><line x1="224.0" y1="778.4" x2="146.5" y2="852.5" stroke="#1e1ed6"/><line x1="224.0" y1="778.4" x2="165.7" y2="812.2" stroke="#1e1ed6"/><line x1="224.0" y1="778.4" x2="216.5" y2="875.2" stroke="#1e1ed6"/><line x1="248.5" y1="771.7" x2="133.5" y2="812.2" stroke="#1e1ed6"/><line x1="248.5" y1="771.7" x2="165.7" y2="812.2" stroke="#1e1ed6"/><line x1="248.5" y1="771.7" x2="146.5" y2="852.5" stroke="#1e1ed6"/><line x1="248.5" y1="771.7" x2="261.5" y2="812.2" stroke="#1e1ed6"/><line x1="133.5" y1="812.2" x2="261.5" y2="812.2" stroke="#1e1ed6"/><line x1="133.5" y1="812.2" x2="146.5" y2="852.5" stroke="#1e1ed6"/><line x1="133.5" y1="812.2" x2="248.5" y2="852.5" stroke="#1e1ed6"/><line x1="133.5" y1="812.2" x2="216.5" y2="875.2" stroke="#1e1ed6"/><line x1="133.5" y1="812.2" x2="197.5" y2="845.2" stroke="#1e1ed6"/><line x1="165.7" y1="812.2" x2="216.5" y2="875.2" stroke="#1e1ed6"/><line x1="165.7" y1="812.2" x2="248.5" y2="852.5" stroke="#1e1ed6"/><line x1="197.5" y1="812.2" x2="178.5" y2="875.2" stroke="#1e1ed6"/><line x1="197.5" y1="812.2" x2="248.5" y2="852.5" stroke="#1e1ed6"/><line x1="229.3" y1="812.2" x2="146.5" y2="852.5" stroke="#1e1ed6"/><line x1="229.3" y1="812.2" x2="178.5" y2="875.2" stroke="#1e1ed6"/><line x1="229.3" y1="812.2" x2="248.5" y2="852.5" stroke="#1e1ed6"/><line x1="261.5" y1="812.2" x2="146.5" y2="852.5" stroke="#1e1ed6"/><line x1="261.5" y1="812.2" x2="178.5" y2="875.2" stroke="#1e1ed6"/><line x1="146.5" y1="852.5" x2="248.5" y2="852.5" stroke="#1e1ed6"/><line x1="146.5" y1="852.5" x2="178.5" y2="875.2" stroke="#1e1ed6"/><line x1="146.5" y1="852.5" x2="216.5" y2="875.2" stroke="#1e1ed6"/><line x1="146.5" y1="852.5" x2="224.0" y2="846.2" stroke="#1e1ed6"/><line x1="171.0" y1="846.2" x2="248.5" y2="852.5" stroke="#1e1ed6"/><line x1="197.5" y1="845.2" x2="178.5" y2="875.2" stroke="#1e1ed6"/><line x1="224.0" y1="846.2" x2="178.5" y2="875.2" stroke="#1e1ed6"/><line x1="248.5" y1="852.5" x2="178.5" y2="875.2" stroke="#1e1ed6"/><line x1="248.5" y1="852.5" x2="216.5" y2="875.2" stroke="#1e1ed6"/><line x1="178.5" y1="875.2" x2="216.5" y2="875.2" stroke="#1e1ed6"/></g>

<path d="M348.7 747.2 L356.1 738.9 Q358.3 736.9 360.5 738.9 L366.9 747.2" fill="none" stroke="#777" stroke-width="1"/>
<path d="M299.0 799.2 Q293.7 797.7 293.4 804.2 L293.1 820.2 Q292.9 830.7 297.8 829.7" fill="none" stroke="#777" stroke-width="1"/>
<path d="M417.6 799.2 Q422.9 797.7 423.2 804.2 L423.5 820.2 Q423.7 830.7 418.8 829.7" fill="none" stroke="#777" stroke-width="1"/>
<ellipse cx="358.3" cy="812.2" rx="60.3" ry="64.7" fill="none" stroke="#1c1c1c" stroke-width="1.45"/>
<g fill="#111"><circle cx="339.3" cy="749.2" r="2.6"/><circle cx="377.3" cy="749.2" r="2.6"/><circle cx="307.3" cy="771.7" r="2.6"/><circle cx="331.8" cy="778.4" r="2.6"/><circle cx="358.3" cy="779.2" r="2.6"/><circle cx="384.8" cy="778.4" r="2.6"/><circle cx="409.3" cy="771.7" r="2.6"/><circle cx="294.3" cy="812.2" r="2.6"/><circle cx="326.5" cy="812.2" r="2.6"/><circle cx="358.3" cy="812.2" r="2.6"/><circle cx="390.1" cy="812.2" r="2.6"/><circle cx="422.3" cy="812.2" r="2.6"/><circle cx="307.3" cy="852.5" r="2.6"/><circle cx="331.8" cy="846.2" r="2.6"/><circle cx="358.3" cy="845.2" r="2.6"/><circle cx="384.8" cy="846.2" r="2.6"/><circle cx="409.3" cy="852.5" r="2.6"/><circle cx="339.3" cy="875.2" r="2.6"/><circle cx="377.3" cy="875.2" r="2.6"/></g>
<g stroke-width="1.75" stroke-linecap="round"><line x1="339.3" y1="749.2" x2="377.3" y2="749.2" stroke="#1e1ed6"/><line x1="339.3" y1="749.2" x2="307.3" y2="771.7" stroke="#1e1ed6"/><line x1="339.3" y1="749.2" x2="409.3" y2="771.7" stroke="#1e1ed6"/><line x1="339.3" y1="749.2" x2="384.8" y2="778.4" stroke="#1e1ed6"/><line x1="339.3" y1="749.2" x2="331.8" y2="778.4" stroke="#1e1ed6"/><line x1="339.3" y1="749.2" x2="294.3" y2="812.2" stroke="#1e1ed6"/><line x1="339.3" y1="749.2" x2="390.1" y2="812.2" stroke="#1e1ed6"/><line x1="339.3" y1="749.2" x2="384.8" y2="846.2" stroke="#1e1ed6"/><line x1="339.3" y1="749.2" x2="358.3" y2="845.2" stroke="#1e1ed6"/><line x1="377.3" y1="749.2" x2="307.3" y2="771.7" stroke="#1e1ed6"/><line x1="377.3" y1="749.2" x2="294.3" y2="812.2" stroke="#1e1ed6"/><line x1="307.3" y1="771.7" x2="409.3" y2="771.7" stroke="#1e1ed6"/><line x1="307.3" y1="771.7" x2="384.8" y2="778.4" stroke="#1e1ed6"/><line x1="307.3" y1="771.7" x2="358.3" y2="779.2" stroke="#1e1ed6"/><line x1="307.3" y1="771.7" x2="294.3" y2="812.2" stroke="#1e1ed6"/><line x1="307.3" y1="771.7" x2="307.3" y2="852.5" stroke="#1e1ed6"/><line x1="307.3" y1="771.7" x2="390.1" y2="812.2" stroke="#1e1ed6"/><line x1="307.3" y1="771.7" x2="384.8" y2="846.2" stroke="#1e1ed6"/><line x1="307.3" y1="771.7" x2="409.3" y2="852.5" stroke="#1e1ed6"/><line x1="307.3" y1="771.7" x2="377.3" y2="875.2" stroke="#1e1ed6"/><line x1="307.3" y1="771.7" x2="358.3" y2="845.2" stroke="#1e1ed6"/><line x1="409.3" y1="771.7" x2="294.3" y2="812.2" stroke="#1e1ed6"/><line x1="409.3" y1="771.7" x2="326.5" y2="812.2" stroke="#1e1ed6"/><line x1="409.3" y1="771.7" x2="307.3" y2="852.5" stroke="#1e1ed6"/><line x1="331.8" y1="778.4" x2="409.3" y2="771.7" stroke="#1e1ed6"/><line x1="294.3" y1="812.2" x2="390.1" y2="812.2" stroke="#1e1ed6"/><line x1="294.3" y1="812.2" x2="384.8" y2="778.4" stroke="#1e1ed6"/><line x1="294.3" y1="812.2" x2="409.3" y2="852.5" stroke="#1e1ed6"/><line x1="294.3" y1="812.2" x2="384.8" y2="846.2" stroke="#1e1ed6"/><line x1="294.3" y1="812.2" x2="377.3" y2="875.2" stroke="#1e1ed6"/><line x1="307.3" y1="852.5" x2="409.3" y2="852.5" stroke="#1e1ed6"/><line x1="307.3" y1="852.5" x2="384.8" y2="778.4" stroke="#1e1ed6"/><line x1="307.3" y1="852.5" x2="390.1" y2="812.2" stroke="#1e1ed6"/><line x1="307.3" y1="852.5" x2="377.3" y2="875.2" stroke="#1e1ed6"/><line x1="307.3" y1="852.5" x2="358.3" y2="845.2" stroke="#1e1ed6"/><line x1="307.3" y1="852.5" x2="339.3" y2="875.2" stroke="#1e1ed6"/><line x1="307.3" y1="852.5" x2="384.8" y2="846.2" stroke="#1e1ed6"/><line x1="390.1" y1="812.2" x2="339.3" y2="875.2" stroke="#1e1ed6"/><line x1="390.1" y1="812.2" x2="409.3" y2="852.5" stroke="#1e1ed6"/><line x1="390.1" y1="812.2" x2="331.8" y2="846.2" stroke="#1e1ed6"/><line x1="422.3" y1="812.2" x2="339.3" y2="875.2" stroke="#1e1ed6"/><line x1="422.3" y1="812.2" x2="331.8" y2="846.2" stroke="#1e1ed6"/><line x1="339.3" y1="875.2" x2="358.3" y2="845.2" stroke="#1e1ed6"/><line x1="339.3" y1="875.2" x2="384.8" y2="846.2" stroke="#1e1ed6"/><line x1="339.3" y1="875.2" x2="409.3" y2="852.5" stroke="#1e1ed6"/><line x1="339.3" y1="875.2" x2="377.3" y2="875.2" stroke="#1e1ed6"/><line x1="331.8" y1="778.4" x2="339.3" y2="875.2" stroke="#1e1ed6"/><line x1="326.5" y1="812.2" x2="377.3" y2="875.2" stroke="#1e1ed6"/><line x1="331.8" y1="846.2" x2="377.3" y2="875.2" stroke="#1e1ed6"/><line x1="331.8" y1="846.2" x2="409.3" y2="852.5" stroke="#1e1ed6"/></g>

<path d="M509.7 747.2 L517.1 738.9 Q519.3 736.9 521.5 738.9 L527.9 747.2" fill="none" stroke="#777" stroke-width="1"/>
<path d="M460.0 799.2 Q454.7 797.7 454.4 804.2 L454.1 820.2 Q453.9 830.7 458.8 829.7" fill="none" stroke="#777" stroke-width="1"/>
<path d="M578.6 799.2 Q583.9 797.7 584.2 804.2 L584.5 820.2 Q584.7 830.7 579.8 829.7" fill="none" stroke="#777" stroke-width="1"/>
<ellipse cx="519.3" cy="812.2" rx="60.3" ry="64.7" fill="none" stroke="#1c1c1c" stroke-width="1.45"/>
<g fill="#111"><circle cx="500.3" cy="749.2" r="2.6"/><circle cx="538.3" cy="749.2" r="2.6"/><circle cx="468.3" cy="771.7" r="2.6"/><circle cx="492.8" cy="778.4" r="2.6"/><circle cx="519.3" cy="779.2" r="2.6"/><circle cx="545.8" cy="778.4" r="2.6"/><circle cx="570.3" cy="771.7" r="2.6"/><circle cx="455.3" cy="812.2" r="2.6"/><circle cx="487.5" cy="812.2" r="2.6"/><circle cx="519.3" cy="812.2" r="2.6"/><circle cx="551.1" cy="812.2" r="2.6"/><circle cx="583.3" cy="812.2" r="2.6"/><circle cx="468.3" cy="852.5" r="2.6"/><circle cx="492.8" cy="846.2" r="2.6"/><circle cx="519.3" cy="845.2" r="2.6"/><circle cx="545.8" cy="846.2" r="2.6"/><circle cx="570.3" cy="852.5" r="2.6"/><circle cx="500.3" cy="875.2" r="2.6"/><circle cx="538.3" cy="875.2" r="2.6"/></g>
<g stroke-width="1.75" stroke-linecap="round"><line x1="500.3" y1="749.2" x2="538.3" y2="749.2" stroke="#1e1ed6"/><line x1="538.3" y1="749.2" x2="455.3" y2="812.2" stroke="#1e1ed6"/><line x1="468.3" y1="771.7" x2="455.3" y2="812.2" stroke="#1e1ed6"/><line x1="545.8" y1="778.4" x2="455.3" y2="812.2" stroke="#1e1ed6"/><line x1="455.3" y1="812.2" x2="551.1" y2="812.2" stroke="#1e1ed6"/><line x1="492.8" y1="778.4" x2="538.3" y2="875.2" stroke="#1e1ed6"/><line x1="519.3" y1="779.2" x2="570.3" y2="852.5" stroke="#1e1ed6"/><line x1="545.8" y1="778.4" x2="570.3" y2="852.5" stroke="#1e1ed6"/><line x1="570.3" y1="771.7" x2="570.3" y2="852.5" stroke="#1e1ed6"/><line x1="487.5" y1="812.2" x2="468.3" y2="852.5" stroke="#1e1ed6"/><line x1="487.5" y1="812.2" x2="570.3" y2="852.5" stroke="#1e1ed6"/><line x1="487.5" y1="812.2" x2="538.3" y2="875.2" stroke="#1e1ed6"/><line x1="519.3" y1="812.2" x2="468.3" y2="852.5" stroke="#1e1ed6"/><line x1="519.3" y1="812.2" x2="538.3" y2="875.2" stroke="#1e1ed6"/><line x1="519.3" y1="812.2" x2="570.3" y2="852.5" stroke="#1e1ed6"/><line x1="551.1" y1="812.2" x2="570.3" y2="852.5" stroke="#1e1ed6"/><line x1="551.1" y1="812.2" x2="545.8" y2="846.2" stroke="#1e1ed6"/><line x1="468.3" y1="852.5" x2="570.3" y2="852.5" stroke="#1e1ed6"/><line x1="468.3" y1="852.5" x2="545.8" y2="846.2" stroke="#1e1ed6"/><line x1="468.3" y1="852.5" x2="519.3" y2="845.2" stroke="#1e1ed6"/><line x1="468.3" y1="852.5" x2="538.3" y2="875.2" stroke="#1e1ed6"/><line x1="468.3" y1="852.5" x2="500.3" y2="875.2" stroke="#1e1ed6"/><line x1="492.8" y1="846.2" x2="538.3" y2="875.2" stroke="#1e1ed6"/><line x1="519.3" y1="845.2" x2="500.3" y2="875.2" stroke="#1e1ed6"/><line x1="545.8" y1="846.2" x2="500.3" y2="875.2" stroke="#1e1ed6"/><line x1="570.3" y1="852.5" x2="500.3" y2="875.2" stroke="#1e1ed6"/><line x1="500.3" y1="875.2" x2="538.3" y2="875.2" stroke="#1e1ed6"/><line x1="570.3" y1="852.5" x2="538.3" y2="875.2" stroke="#1e1ed6"/><line x1="492.8" y1="846.2" x2="570.3" y2="852.5" stroke="#1e1ed6"/><line x1="538.3" y1="749.2" x2="545.8" y2="846.2" stroke="#d61a1a"/></g>

<path d="M671.3 747.2 L678.7 738.9 Q680.9 736.9 683.1 738.9 L689.5 747.2" fill="none" stroke="#777" stroke-width="1"/>
<path d="M621.6 799.2 Q616.3 797.7 616.0 804.2 L615.7 820.2 Q615.5 830.7 620.4 829.7" fill="none" stroke="#777" stroke-width="1"/>
<path d="M740.2 799.2 Q745.5 797.7 745.8 804.2 L746.1 820.2 Q746.3 830.7 741.4 829.7" fill="none" stroke="#777" stroke-width="1"/>
<ellipse cx="680.9" cy="812.2" rx="60.3" ry="64.7" fill="none" stroke="#1c1c1c" stroke-width="1.45"/>
<g fill="#111"><circle cx="661.9" cy="749.2" r="2.6"/><circle cx="699.9" cy="749.2" r="2.6"/><circle cx="629.9" cy="771.7" r="2.6"/><circle cx="654.4" cy="778.4" r="2.6"/><circle cx="680.9" cy="779.2" r="2.6"/><circle cx="707.4" cy="778.4" r="2.6"/><circle cx="731.9" cy="771.7" r="2.6"/><circle cx="616.9" cy="812.2" r="2.6"/><circle cx="649.1" cy="812.2" r="2.6"/><circle cx="680.9" cy="812.2" r="2.6"/><circle cx="712.7" cy="812.2" r="2.6"/><circle cx="744.9" cy="812.2" r="2.6"/><circle cx="629.9" cy="852.5" r="2.6"/><circle cx="654.4" cy="846.2" r="2.6"/><circle cx="680.9" cy="845.2" r="2.6"/><circle cx="707.4" cy="846.2" r="2.6"/><circle cx="731.9" cy="852.5" r="2.6"/><circle cx="661.9" cy="875.2" r="2.6"/><circle cx="699.9" cy="875.2" r="2.6"/></g>
<g stroke-width="1.75" stroke-linecap="round"><line x1="629.9" y1="771.7" x2="629.9" y2="852.5" stroke="#1e1ed6"/><line x1="654.4" y1="778.4" x2="629.9" y2="852.5" stroke="#1e1ed6"/><line x1="649.1" y1="812.2" x2="629.9" y2="852.5" stroke="#1e1ed6"/><line x1="649.1" y1="812.2" x2="731.9" y2="852.5" stroke="#1e1ed6"/><line x1="649.1" y1="812.2" x2="661.9" y2="875.2" stroke="#1e1ed6"/><line x1="649.1" y1="812.2" x2="699.9" y2="875.2" stroke="#1e1ed6"/><line x1="680.9" y1="812.2" x2="629.9" y2="852.5" stroke="#1e1ed6"/><line x1="680.9" y1="812.2" x2="661.9" y2="875.2" stroke="#1e1ed6"/><line x1="680.9" y1="812.2" x2="699.9" y2="875.2" stroke="#1e1ed6"/><line x1="680.9" y1="812.2" x2="731.9" y2="852.5" stroke="#1e1ed6"/><line x1="712.7" y1="812.2" x2="629.9" y2="852.5" stroke="#1e1ed6"/><line x1="712.7" y1="812.2" x2="731.9" y2="852.5" stroke="#1e1ed6"/><line x1="712.7" y1="812.2" x2="699.9" y2="875.2" stroke="#1e1ed6"/><line x1="712.7" y1="812.2" x2="661.9" y2="875.2" stroke="#1e1ed6"/><line x1="744.9" y1="812.2" x2="731.9" y2="852.5" stroke="#1e1ed6"/><line x1="629.9" y1="852.5" x2="731.9" y2="852.5" stroke="#1e1ed6"/><line x1="629.9" y1="852.5" x2="707.4" y2="846.2" stroke="#1e1ed6"/><line x1="629.9" y1="852.5" x2="699.9" y2="875.2" stroke="#1e1ed6"/><line x1="629.9" y1="852.5" x2="661.9" y2="875.2" stroke="#1e1ed6"/><line x1="654.4" y1="846.2" x2="699.9" y2="875.2" stroke="#1e1ed6"/><line x1="680.9" y1="845.2" x2="661.9" y2="875.2" stroke="#1e1ed6"/><line x1="680.9" y1="845.2" x2="699.9" y2="875.2" stroke="#1e1ed6"/><line x1="707.4" y1="846.2" x2="661.9" y2="875.2" stroke="#1e1ed6"/><line x1="731.9" y1="852.5" x2="661.9" y2="875.2" stroke="#1e1ed6"/><line x1="661.9" y1="875.2" x2="699.9" y2="875.2" stroke="#1e1ed6"/><line x1="731.9" y1="852.5" x2="699.9" y2="875.2" stroke="#1e1ed6"/><line x1="731.9" y1="852.5" x2="654.4" y2="846.2" stroke="#1e1ed6"/></g>

<path d="M832.6 747.2 L840.0 738.9 Q842.2 736.9 844.4 738.9 L850.8 747.2" fill="none" stroke="#777" stroke-width="1"/>
<path d="M782.9 799.2 Q777.6 797.7 777.3 804.2 L777.0 820.2 Q776.8 830.7 781.7 829.7" fill="none" stroke="#777" stroke-width="1"/>
<path d="M901.5 799.2 Q906.8 797.7 907.1 804.2 L907.4 820.2 Q907.6 830.7 902.7 829.7" fill="none" stroke="#777" stroke-width="1"/>
<ellipse cx="842.2" cy="812.2" rx="60.3" ry="64.7" fill="none" stroke="#1c1c1c" stroke-width="1.45"/>
<g fill="#111"><circle cx="823.2" cy="749.2" r="2.6"/><circle cx="861.2" cy="749.2" r="2.6"/><circle cx="791.2" cy="771.7" r="2.6"/><circle cx="815.7" cy="778.4" r="2.6"/><circle cx="842.2" cy="779.2" r="2.6"/><circle cx="868.7" cy="778.4" r="2.6"/><circle cx="893.2" cy="771.7" r="2.6"/><circle cx="778.2" cy="812.2" r="2.6"/><circle cx="810.4" cy="812.2" r="2.6"/><circle cx="842.2" cy="812.2" r="2.6"/><circle cx="874.0" cy="812.2" r="2.6"/><circle cx="906.2" cy="812.2" r="2.6"/><circle cx="791.2" cy="852.5" r="2.6"/><circle cx="815.7" cy="846.2" r="2.6"/><circle cx="842.2" cy="845.2" r="2.6"/><circle cx="868.7" cy="846.2" r="2.6"/><circle cx="893.2" cy="852.5" r="2.6"/><circle cx="823.2" cy="875.2" r="2.6"/><circle cx="861.2" cy="875.2" r="2.6"/></g>
<g stroke-width="1.75" stroke-linecap="round"><line x1="791.2" y1="771.7" x2="791.2" y2="852.5" stroke="#1e1ed6"/><line x1="778.2" y1="812.2" x2="791.2" y2="852.5" stroke="#1e1ed6"/><line x1="810.4" y1="812.2" x2="791.2" y2="852.5" stroke="#1e1ed6"/><line x1="791.2" y1="852.5" x2="815.7" y2="846.2" stroke="#1e1ed6"/><line x1="815.7" y1="846.2" x2="842.2" y2="845.2" stroke="#1e1ed6"/><line x1="842.2" y1="845.2" x2="893.2" y2="852.5" stroke="#1e1ed6"/><line x1="815.7" y1="846.2" x2="893.2" y2="852.5" stroke="#1e1ed6"/><line x1="815.7" y1="846.2" x2="823.2" y2="875.2" stroke="#1e1ed6"/><line x1="815.7" y1="846.2" x2="861.2" y2="875.2" stroke="#1e1ed6"/><line x1="842.2" y1="845.2" x2="823.2" y2="875.2" stroke="#1e1ed6"/><line x1="842.2" y1="845.2" x2="861.2" y2="875.2" stroke="#1e1ed6"/><line x1="823.2" y1="875.2" x2="861.2" y2="875.2" stroke="#1e1ed6"/><line x1="842.2" y1="812.2" x2="893.2" y2="852.5" stroke="#1e1ed6"/><line x1="874.0" y1="812.2" x2="861.2" y2="875.2" stroke="#1e1ed6"/><line x1="874.0" y1="812.2" x2="893.2" y2="852.5" stroke="#1e1ed6"/><line x1="906.2" y1="812.2" x2="861.2" y2="875.2" stroke="#1e1ed6"/><line x1="893.2" y1="771.7" x2="893.2" y2="852.5" stroke="#1e1ed6"/><line x1="893.2" y1="852.5" x2="861.2" y2="875.2" stroke="#1e1ed6"/></g>

<path d="M187.9 904.7 L195.3 896.4 Q197.5 894.4 199.7 896.4 L206.1 904.7" fill="none" stroke="#777" stroke-width="1"/>
<path d="M138.2 956.7 Q132.9 955.2 132.6 961.7 L132.3 977.7 Q132.1 988.2 137.0 987.2" fill="none" stroke="#777" stroke-width="1"/>
<path d="M256.8 956.7 Q262.1 955.2 262.4 961.7 L262.7 977.7 Q262.9 988.2 258.0 987.2" fill="none" stroke="#777" stroke-width="1"/>
<ellipse cx="197.5" cy="969.7" rx="60.3" ry="64.7" fill="none" stroke="#1c1c1c" stroke-width="1.45"/>
<g fill="#111"><circle cx="178.5" cy="906.7" r="2.6"/><circle cx="216.5" cy="906.7" r="2.6"/><circle cx="146.5" cy="929.2" r="2.6"/><circle cx="171.0" cy="935.9" r="2.6"/><circle cx="197.5" cy="936.7" r="2.6"/><circle cx="224.0" cy="935.9" r="2.6"/><circle cx="248.5" cy="929.2" r="2.6"/><circle cx="133.5" cy="969.7" r="2.6"/><circle cx="165.7" cy="969.7" r="2.6"/><circle cx="197.5" cy="969.7" r="2.6"/><circle cx="229.3" cy="969.7" r="2.6"/><circle cx="261.5" cy="969.7" r="2.6"/><circle cx="146.5" cy="1010.0" r="2.6"/><circle cx="171.0" cy="1003.7" r="2.6"/><circle cx="197.5" cy="1002.7" r="2.6"/><circle cx="224.0" cy="1003.7" r="2.6"/><circle cx="248.5" cy="1010.0" r="2.6"/><circle cx="178.5" cy="1032.7" r="2.6"/><circle cx="216.5" cy="1032.7" r="2.6"/></g>
<g stroke-width="1.75" stroke-linecap="round"><line x1="178.5" y1="906.7" x2="216.5" y2="906.7" stroke="#d61a1a"/><line x1="178.5" y1="906.7" x2="146.5" y2="929.2" stroke="#d61a1a"/><line x1="178.5" y1="906.7" x2="165.7" y2="969.7" stroke="#d61a1a"/><line x1="178.5" y1="906.7" x2="229.3" y2="969.7" stroke="#d61a1a"/><line x1="146.5" y1="929.2" x2="224.0" y2="935.9" stroke="#d61a1a"/><line x1="171.0" y1="935.9" x2="248.5" y2="929.2" stroke="#d61a1a"/><line x1="146.5" y1="929.2" x2="133.5" y2="969.7" stroke="#d61a1a"/><line x1="146.5" y1="929.2" x2="165.7" y2="969.7" stroke="#d61a1a"/><line x1="171.0" y1="935.9" x2="133.5" y2="969.7" stroke="#d61a1a"/><line x1="171.0" y1="935.9" x2="146.5" y2="1010.0" stroke="#d61a1a"/><line x1="171.0" y1="935.9" x2="197.5" y2="1002.7" stroke="#d61a1a"/><line x1="224.0" y1="935.9" x2="165.7" y2="969.7" stroke="#d61a1a"/><line x1="248.5" y1="929.2" x2="165.7" y2="969.7" stroke="#d61a1a"/><line x1="224.0" y1="935.9" x2="197.5" y2="1002.7" stroke="#d61a1a"/><line x1="165.7" y1="969.7" x2="261.5" y2="969.7" stroke="#d61a1a"/><line x1="165.7" y1="969.7" x2="146.5" y2="1010.0" stroke="#d61a1a"/><line x1="165.7" y1="969.7" x2="171.0" y2="1003.7" stroke="#d61a1a"/><line x1="165.7" y1="969.7" x2="224.0" y2="1003.7" stroke="#d61a1a"/><line x1="165.7" y1="969.7" x2="216.5" y2="1032.7" stroke="#d61a1a"/><line x1="197.5" y1="969.7" x2="197.5" y2="1002.7" stroke="#d61a1a"/><line x1="197.5" y1="969.7" x2="178.5" y2="1032.7" stroke="#d61a1a"/><line x1="197.5" y1="969.7" x2="248.5" y2="1010.0" stroke="#d61a1a"/><line x1="229.3" y1="969.7" x2="224.0" y2="1003.7" stroke="#d61a1a"/><line x1="229.3" y1="969.7" x2="248.5" y2="1010.0" stroke="#d61a1a"/><line x1="229.3" y1="969.7" x2="178.5" y2="1032.7" stroke="#d61a1a"/><line x1="229.3" y1="969.7" x2="171.0" y2="1003.7" stroke="#d61a1a"/><line x1="146.5" y1="1010.0" x2="248.5" y2="1010.0" stroke="#d61a1a"/><line x1="171.0" y1="1003.7" x2="224.0" y2="1003.7" stroke="#d61a1a"/><line x1="146.5" y1="1010.0" x2="178.5" y2="1032.7" stroke="#d61a1a"/><line x1="146.5" y1="1010.0" x2="216.5" y2="1032.7" stroke="#d61a1a"/><line x1="146.5" y1="1010.0" x2="197.5" y2="1002.7" stroke="#d61a1a"/><line x1="178.5" y1="1032.7" x2="171.0" y2="1003.7" stroke="#d61a1a"/><line x1="178.5" y1="1032.7" x2="197.5" y2="1002.7" stroke="#d61a1a"/><line x1="178.5" y1="1032.7" x2="224.0" y2="1003.7" stroke="#d61a1a"/><line x1="178.5" y1="1032.7" x2="248.5" y2="1010.0" stroke="#d61a1a"/><line x1="178.5" y1="1032.7" x2="216.5" y2="1032.7" stroke="#d61a1a"/><line x1="216.5" y1="1032.7" x2="171.0" y2="1003.7" stroke="#d61a1a"/><line x1="216.5" y1="1032.7" x2="248.5" y2="1010.0" stroke="#d61a1a"/><line x1="216.5" y1="1032.7" x2="197.5" y2="1002.7" stroke="#d61a1a"/><line x1="248.5" y1="1010.0" x2="171.0" y2="1003.7" stroke="#d61a1a"/></g>

<path d="M348.7 904.7 L356.1 896.4 Q358.3 894.4 360.5 896.4 L366.9 904.7" fill="none" stroke="#777" stroke-width="1"/>
<path d="M299.0 956.7 Q293.7 955.2 293.4 961.7 L293.1 977.7 Q292.9 988.2 297.8 987.2" fill="none" stroke="#777" stroke-width="1"/>
<path d="M417.6 956.7 Q422.9 955.2 423.2 961.7 L423.5 977.7 Q423.7 988.2 418.8 987.2" fill="none" stroke="#777" stroke-width="1"/>
<ellipse cx="358.3" cy="969.7" rx="60.3" ry="64.7" fill="none" stroke="#1c1c1c" stroke-width="1.45"/>
<g fill="#111"><circle cx="339.3" cy="906.7" r="2.6"/><circle cx="377.3" cy="906.7" r="2.6"/><circle cx="307.3" cy="929.2" r="2.6"/><circle cx="331.8" cy="935.9" r="2.6"/><circle cx="358.3" cy="936.7" r="2.6"/><circle cx="384.8" cy="935.9" r="2.6"/><circle cx="409.3" cy="929.2" r="2.6"/><circle cx="294.3" cy="969.7" r="2.6"/><circle cx="326.5" cy="969.7" r="2.6"/><circle cx="358.3" cy="969.7" r="2.6"/><circle cx="390.1" cy="969.7" r="2.6"/><circle cx="422.3" cy="969.7" r="2.6"/><circle cx="307.3" cy="1010.0" r="2.6"/><circle cx="331.8" cy="1003.7" r="2.6"/><circle cx="358.3" cy="1002.7" r="2.6"/><circle cx="384.8" cy="1003.7" r="2.6"/><circle cx="409.3" cy="1010.0" r="2.6"/><circle cx="339.3" cy="1032.7" r="2.6"/><circle cx="377.3" cy="1032.7" r="2.6"/></g>
<g stroke-width="1.75" stroke-linecap="round"><line x1="339.3" y1="906.7" x2="377.3" y2="906.7" stroke="#d61a1a"/><line x1="339.3" y1="906.7" x2="307.3" y2="929.2" stroke="#d61a1a"/><line x1="339.3" y1="906.7" x2="409.3" y2="929.2" stroke="#d61a1a"/><line x1="339.3" y1="906.7" x2="331.8" y2="935.9" stroke="#d61a1a"/><line x1="339.3" y1="906.7" x2="384.8" y2="935.9" stroke="#d61a1a"/><line x1="377.3" y1="906.7" x2="307.3" y2="929.2" stroke="#d61a1a"/><line x1="307.3" y1="929.2" x2="384.8" y2="935.9" stroke="#d61a1a"/><line x1="307.3" y1="929.2" x2="358.3" y2="936.7" stroke="#d61a1a"/><line x1="307.3" y1="929.2" x2="294.3" y2="969.7" stroke="#d61a1a"/><line x1="307.3" y1="929.2" x2="390.1" y2="969.7" stroke="#d61a1a"/><line x1="307.3" y1="929.2" x2="358.3" y2="1002.7" stroke="#d61a1a"/><line x1="409.3" y1="929.2" x2="422.3" y2="969.7" stroke="#d61a1a"/><line x1="294.3" y1="969.7" x2="390.1" y2="969.7" stroke="#d61a1a"/><line x1="390.1" y1="969.7" x2="307.3" y2="1010.0" stroke="#d61a1a"/><line x1="390.1" y1="969.7" x2="409.3" y2="1010.0" stroke="#d61a1a"/><line x1="358.3" y1="969.7" x2="409.3" y2="1010.0" stroke="#d61a1a"/><line x1="422.3" y1="969.7" x2="339.3" y2="1032.7" stroke="#d61a1a"/><line x1="307.3" y1="1010.0" x2="409.3" y2="1010.0" stroke="#d61a1a"/><line x1="307.3" y1="1010.0" x2="384.8" y2="1003.7" stroke="#d61a1a"/><line x1="307.3" y1="1010.0" x2="339.3" y2="1032.7" stroke="#d61a1a"/><line x1="307.3" y1="1010.0" x2="377.3" y2="1032.7" stroke="#d61a1a"/><line x1="307.3" y1="1010.0" x2="358.3" y2="1002.7" stroke="#d61a1a"/><line x1="339.3" y1="1032.7" x2="331.8" y2="1003.7" stroke="#d61a1a"/><line x1="339.3" y1="1032.7" x2="358.3" y2="1002.7" stroke="#d61a1a"/><line x1="339.3" y1="1032.7" x2="384.8" y2="1003.7" stroke="#d61a1a"/><line x1="339.3" y1="1032.7" x2="409.3" y2="1010.0" stroke="#d61a1a"/><line x1="339.3" y1="1032.7" x2="377.3" y2="1032.7" stroke="#d61a1a"/><line x1="377.3" y1="1032.7" x2="331.8" y2="1003.7" stroke="#d61a1a"/><line x1="377.3" y1="1032.7" x2="409.3" y2="1010.0" stroke="#d61a1a"/><line x1="358.3" y1="1002.7" x2="377.3" y2="1032.7" stroke="#d61a1a"/></g>

<path d="M509.7 904.7 L517.1 896.4 Q519.3 894.4 521.5 896.4 L527.9 904.7" fill="none" stroke="#777" stroke-width="1"/>
<path d="M460.0 956.7 Q454.7 955.2 454.4 961.7 L454.1 977.7 Q453.9 988.2 458.8 987.2" fill="none" stroke="#777" stroke-width="1"/>
<path d="M578.6 956.7 Q583.9 955.2 584.2 961.7 L584.5 977.7 Q584.7 988.2 579.8 987.2" fill="none" stroke="#777" stroke-width="1"/>
<ellipse cx="519.3" cy="969.7" rx="60.3" ry="64.7" fill="none" stroke="#1c1c1c" stroke-width="1.45"/>
<g fill="#111"><circle cx="500.3" cy="906.7" r="2.6"/><circle cx="538.3" cy="906.7" r="2.6"/><circle cx="468.3" cy="929.2" r="2.6"/><circle cx="492.8" cy="935.9" r="2.6"/><circle cx="519.3" cy="936.7" r="2.6"/><circle cx="545.8" cy="935.9" r="2.6"/><circle cx="570.3" cy="929.2" r="2.6"/><circle cx="455.3" cy="969.7" r="2.6"/><circle cx="487.5" cy="969.7" r="2.6"/><circle cx="519.3" cy="969.7" r="2.6"/><circle cx="551.1" cy="969.7" r="2.6"/><circle cx="583.3" cy="969.7" r="2.6"/><circle cx="468.3" cy="1010.0" r="2.6"/><circle cx="492.8" cy="1003.7" r="2.6"/><circle cx="519.3" cy="1002.7" r="2.6"/><circle cx="545.8" cy="1003.7" r="2.6"/><circle cx="570.3" cy="1010.0" r="2.6"/><circle cx="500.3" cy="1032.7" r="2.6"/><circle cx="538.3" cy="1032.7" r="2.6"/></g>
<g stroke-width="1.75" stroke-linecap="round"><line x1="500.3" y1="906.7" x2="492.8" y2="1003.7" stroke="#1e1ed6"/><line x1="538.3" y1="906.7" x2="492.8" y2="1003.7" stroke="#1e1ed6"/><line x1="538.3" y1="906.7" x2="545.8" y2="1003.7" stroke="#1e1ed6"/><line x1="492.8" y1="935.9" x2="492.8" y2="1003.7" stroke="#1e1ed6"/><line x1="492.8" y1="935.9" x2="545.8" y2="1003.7" stroke="#1e1ed6"/><line x1="519.3" y1="936.7" x2="492.8" y2="1003.7" stroke="#1e1ed6"/><line x1="519.3" y1="936.7" x2="545.8" y2="1003.7" stroke="#1e1ed6"/><line x1="545.8" y1="935.9" x2="492.8" y2="1003.7" stroke="#1e1ed6"/><line x1="545.8" y1="935.9" x2="545.8" y2="1003.7" stroke="#1e1ed6"/><line x1="487.5" y1="969.7" x2="468.3" y2="1010.0" stroke="#d61a1a"/><line x1="487.5" y1="969.7" x2="538.3" y2="1032.7" stroke="#d61a1a"/><line x1="519.3" y1="969.7" x2="538.3" y2="1032.7" stroke="#d61a1a"/><line x1="551.1" y1="969.7" x2="545.8" y2="1003.7" stroke="#d61a1a"/><line x1="468.3" y1="1010.0" x2="570.3" y2="1010.0" stroke="#d61a1a"/><line x1="468.3" y1="1010.0" x2="545.8" y2="1003.7" stroke="#d61a1a"/><line x1="468.3" y1="1010.0" x2="500.3" y2="1032.7" stroke="#d61a1a"/><line x1="468.3" y1="1010.0" x2="538.3" y2="1032.7" stroke="#d61a1a"/><line x1="492.8" y1="1003.7" x2="538.3" y2="1032.7" stroke="#d61a1a"/><line x1="492.8" y1="1003.7" x2="545.8" y2="1003.7" stroke="#d61a1a"/><line x1="519.3" y1="1002.7" x2="500.3" y2="1032.7" stroke="#d61a1a"/><line x1="519.3" y1="1002.7" x2="538.3" y2="1032.7" stroke="#d61a1a"/><line x1="500.3" y1="1032.7" x2="570.3" y2="1010.0" stroke="#d61a1a"/><line x1="500.3" y1="1032.7" x2="545.8" y2="1003.7" stroke="#d61a1a"/><line x1="500.3" y1="1032.7" x2="538.3" y2="1032.7" stroke="#d61a1a"/><line x1="538.3" y1="1032.7" x2="570.3" y2="1010.0" stroke="#d61a1a"/><line x1="570.3" y1="1010.0" x2="492.8" y2="1003.7" stroke="#d61a1a"/></g>

<path d="M671.3 904.7 L678.7 896.4 Q680.9 894.4 683.1 896.4 L689.5 904.7" fill="none" stroke="#777" stroke-width="1"/>
<path d="M621.6 956.7 Q616.3 955.2 616.0 961.7 L615.7 977.7 Q615.5 988.2 620.4 987.2" fill="none" stroke="#777" stroke-width="1"/>
<path d="M740.2 956.7 Q745.5 955.2 745.8 961.7 L746.1 977.7 Q746.3 988.2 741.4 987.2" fill="none" stroke="#777" stroke-width="1"/>
<ellipse cx="680.9" cy="969.7" rx="60.3" ry="64.7" fill="none" stroke="#1c1c1c" stroke-width="1.45"/>
<g fill="#111"><circle cx="661.9" cy="906.7" r="2.6"/><circle cx="699.9" cy="906.7" r="2.6"/><circle cx="629.9" cy="929.2" r="2.6"/><circle cx="654.4" cy="935.9" r="2.6"/><circle cx="680.9" cy="936.7" r="2.6"/><circle cx="707.4" cy="935.9" r="2.6"/><circle cx="731.9" cy="929.2" r="2.6"/><circle cx="616.9" cy="969.7" r="2.6"/><circle cx="649.1" cy="969.7" r="2.6"/><circle cx="680.9" cy="969.7" r="2.6"/><circle cx="712.7" cy="969.7" r="2.6"/><circle cx="744.9" cy="969.7" r="2.6"/><circle cx="629.9" cy="1010.0" r="2.6"/><circle cx="654.4" cy="1003.7" r="2.6"/><circle cx="680.9" cy="1002.7" r="2.6"/><circle cx="707.4" cy="1003.7" r="2.6"/><circle cx="731.9" cy="1010.0" r="2.6"/><circle cx="661.9" cy="1032.7" r="2.6"/><circle cx="699.9" cy="1032.7" r="2.6"/></g>
<g stroke-width="1.75" stroke-linecap="round"><line x1="616.9" y1="969.7" x2="699.9" y2="1032.7" stroke="#d61a1a"/><line x1="649.1" y1="969.7" x2="629.9" y2="1010.0" stroke="#d61a1a"/><line x1="649.1" y1="969.7" x2="661.9" y2="1032.7" stroke="#d61a1a"/><line x1="649.1" y1="969.7" x2="699.9" y2="1032.7" stroke="#d61a1a"/><line x1="680.9" y1="969.7" x2="629.9" y2="1010.0" stroke="#d61a1a"/><line x1="680.9" y1="969.7" x2="661.9" y2="1032.7" stroke="#d61a1a"/><line x1="680.9" y1="969.7" x2="699.9" y2="1032.7" stroke="#d61a1a"/><line x1="712.7" y1="969.7" x2="629.9" y2="1010.0" stroke="#d61a1a"/><line x1="712.7" y1="969.7" x2="707.4" y2="1003.7" stroke="#d61a1a"/><line x1="712.7" y1="969.7" x2="731.9" y2="1010.0" stroke="#d61a1a"/><line x1="744.9" y1="969.7" x2="731.9" y2="1010.0" stroke="#d61a1a"/><line x1="629.9" y1="1010.0" x2="731.9" y2="1010.0" stroke="#d61a1a"/><line x1="629.9" y1="1010.0" x2="661.9" y2="1032.7" stroke="#d61a1a"/><line x1="629.9" y1="1010.0" x2="699.9" y2="1032.7" stroke="#d61a1a"/><line x1="629.9" y1="1010.0" x2="680.9" y2="1002.7" stroke="#d61a1a"/><line x1="654.4" y1="1003.7" x2="699.9" y2="1032.7" stroke="#d61a1a"/><line x1="680.9" y1="1002.7" x2="661.9" y2="1032.7" stroke="#d61a1a"/><line x1="680.9" y1="1002.7" x2="699.9" y2="1032.7" stroke="#d61a1a"/><line x1="707.4" y1="1003.7" x2="661.9" y2="1032.7" stroke="#d61a1a"/><line x1="731.9" y1="1010.0" x2="661.9" y2="1032.7" stroke="#d61a1a"/><line x1="661.9" y1="1032.7" x2="699.9" y2="1032.7" stroke="#d61a1a"/><line x1="731.9" y1="1010.0" x2="699.9" y2="1032.7" stroke="#d61a1a"/><line x1="731.9" y1="1010.0" x2="654.4" y2="1003.7" stroke="#d61a1a"/><line x1="699.9" y1="906.7" x2="707.4" y2="1003.7" stroke="#1e1ed6"/><line x1="707.4" y1="935.9" x2="707.4" y2="1003.7" stroke="#1e1ed6"/></g>

<path d="M832.6 904.7 L840.0 896.4 Q842.2 894.4 844.4 896.4 L850.8 904.7" fill="none" stroke="#777" stroke-width="1"/>
<path d="M782.9 956.7 Q777.6 955.2 777.3 961.7 L777.0 977.7 Q776.8 988.2 781.7 987.2" fill="none" stroke="#777" stroke-width="1"/>
<path d="M901.5 956.7 Q906.8 955.2 907.1 961.7 L907.4 977.7 Q907.6 988.2 902.7 987.2" fill="none" stroke="#777" stroke-width="1"/>
<ellipse cx="842.2" cy="969.7" rx="60.3" ry="64.7" fill="none" stroke="#1c1c1c" stroke-width="1.45"/>
<g fill="#111"><circle cx="823.2" cy="906.7" r="2.6"/><circle cx="861.2" cy="906.7" r="2.6"/><circle cx="791.2" cy="929.2" r="2.6"/><circle cx="815.7" cy="935.9" r="2.6"/><circle cx="842.2" cy="936.7" r="2.6"/><circle cx="868.7" cy="935.9" r="2.6"/><circle cx="893.2" cy="929.2" r="2.6"/><circle cx="778.2" cy="969.7" r="2.6"/><circle cx="810.4" cy="969.7" r="2.6"/><circle cx="842.2" cy="969.7" r="2.6"/><circle cx="874.0" cy="969.7" r="2.6"/><circle cx="906.2" cy="969.7" r="2.6"/><circle cx="791.2" cy="1010.0" r="2.6"/><circle cx="815.7" cy="1003.7" r="2.6"/><circle cx="842.2" cy="1002.7" r="2.6"/><circle cx="868.7" cy="1003.7" r="2.6"/><circle cx="893.2" cy="1010.0" r="2.6"/><circle cx="823.2" cy="1032.7" r="2.6"/><circle cx="861.2" cy="1032.7" r="2.6"/></g>
<g stroke-width="1.75" stroke-linecap="round"><line x1="778.2" y1="969.7" x2="791.2" y2="1010.0" stroke="#d61a1a"/><line x1="810.4" y1="969.7" x2="791.2" y2="1010.0" stroke="#d61a1a"/><line x1="791.2" y1="1010.0" x2="815.7" y2="1003.7" stroke="#d61a1a"/><line x1="815.7" y1="1003.7" x2="842.2" y2="1002.7" stroke="#d61a1a"/><line x1="842.2" y1="1002.7" x2="868.7" y2="1003.7" stroke="#d61a1a"/><line x1="868.7" y1="1003.7" x2="893.2" y2="1010.0" stroke="#d61a1a"/><line x1="815.7" y1="1003.7" x2="823.2" y2="1032.7" stroke="#d61a1a"/><line x1="815.7" y1="1003.7" x2="861.2" y2="1032.7" stroke="#d61a1a"/><line x1="842.2" y1="1002.7" x2="823.2" y2="1032.7" stroke="#d61a1a"/><line x1="842.2" y1="1002.7" x2="861.2" y2="1032.7" stroke="#d61a1a"/><line x1="868.7" y1="1003.7" x2="861.2" y2="1032.7" stroke="#d61a1a"/><line x1="823.2" y1="1032.7" x2="861.2" y2="1032.7" stroke="#d61a1a"/><line x1="874.0" y1="969.7" x2="893.2" y2="1010.0" stroke="#d61a1a"/><line x1="906.2" y1="969.7" x2="893.2" y2="1010.0" stroke="#d61a1a"/></g>
<rect x="396.00" y="1082.5" width="20.93" height="25.0" fill="#0000f0"/><rect x="416.62" y="1082.5" width="20.93" height="25.0" fill="#4080ff"/><rect x="437.25" y="1082.5" width="20.93" height="25.0" fill="#88ccff"/><rect x="457.88" y="1082.5" width="20.93" height="25.0" fill="#90ffd8"/><rect x="478.50" y="1082.5" width="20.93" height="25.0" fill="#90ff80"/><rect x="499.12" y="1082.5" width="20.93" height="25.0" fill="#c0c8f4"/><rect x="519.75" y="1082.5" width="20.93" height="25.0" fill="#c0c8f4"/><rect x="540.38" y="1082.5" width="20.93" height="25.0" fill="#b0ff40"/><rect x="561.00" y="1082.5" width="20.93" height="25.0" fill="#e8f040"/><rect x="581.62" y="1082.5" width="20.93" height="25.0" fill="#f4c840"/><rect x="602.25" y="1082.5" width="20.93" height="25.0" fill="#e07820"/><rect x="622.88" y="1082.5" width="20.93" height="25.0" fill="#e00000"/><rect x="396" y="1082.5" width="247.5" height="25.0" fill="none" stroke="#111" stroke-width="1.2"/><text x="391.0" y="1131.3" text-anchor="middle" font-size="20">−3</text><text x="433.4" y="1131.3" text-anchor="middle" font-size="20">−2</text><text x="474.0" y="1131.3" text-anchor="middle" font-size="20">−1</text><text x="524.5" y="1131.3" text-anchor="middle" font-size="20">0</text><text x="561.0" y="1131.3" text-anchor="middle" font-size="20">1</text><text x="602.0" y="1131.3" text-anchor="middle" font-size="20">2</text><text x="644.0" y="1131.3" text-anchor="middle" font-size="20">3</text><text x="509" y="1069" text-anchor="middle" font-size="20.8">Color Legend (z−scores)</text>
<text x="946.2" y="1256.5" text-anchor="middle" font-size="21">2</text>
</svg>
</body></html>
